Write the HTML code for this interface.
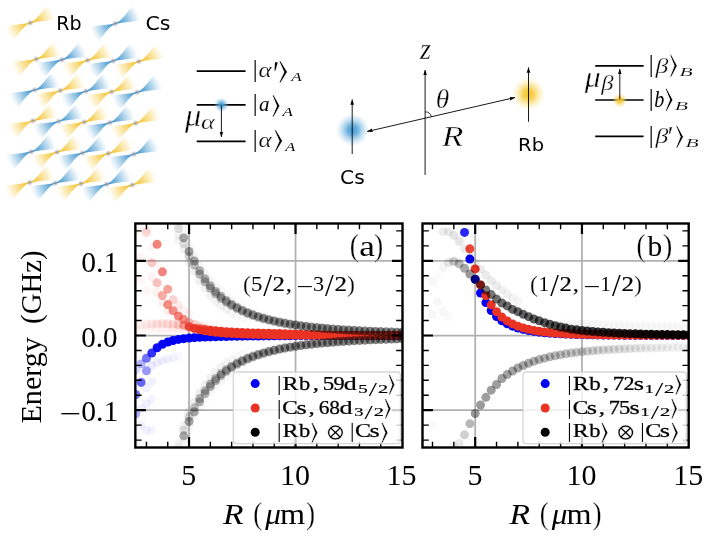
<!DOCTYPE html>
<html><head><meta charset="utf-8"><title>Rb-Cs interaction figure</title>
<style>html,body{margin:0;padding:0;background:#fff}svg{display:block;will-change:transform}</style></head>
<body>
<svg width="712" height="545" viewBox="0 0 712 545">
<rect width="712" height="545" fill="#fff"/>
<defs>
<radialGradient id="gy" gradientUnits="userSpaceOnUse" cx="0" cy="0" r="25.5"><stop offset="0" stop-color="#f0b60a" stop-opacity="1"/><stop offset="0.2" stop-color="#f4c024" stop-opacity="0.85"/><stop offset="0.47" stop-color="#f4c024" stop-opacity="0.56"/><stop offset="0.7" stop-color="#f6c838" stop-opacity="0.32"/><stop offset="0.87" stop-color="#f6c838" stop-opacity="0.11"/><stop offset="1" stop-color="#f6c838" stop-opacity="0"/></radialGradient>
<radialGradient id="gb" gradientUnits="userSpaceOnUse" cx="0" cy="0" r="25.5"><stop offset="0" stop-color="#2f86c4" stop-opacity="1"/><stop offset="0.2" stop-color="#3a92cc" stop-opacity="0.85"/><stop offset="0.47" stop-color="#3a92cc" stop-opacity="0.56"/><stop offset="0.7" stop-color="#4a9cd2" stop-opacity="0.32"/><stop offset="0.87" stop-color="#4a9cd2" stop-opacity="0.11"/><stop offset="1" stop-color="#4a9cd2" stop-opacity="0"/></radialGradient>
<radialGradient id="ga"><stop offset="0" stop-color="#8a8a96" stop-opacity="0.75"/><stop offset="0.5" stop-color="#9a9aa6" stop-opacity="0.45"/><stop offset="1" stop-color="#aaaab4" stop-opacity="0"/></radialGradient>
<radialGradient id="blobB"><stop offset="0" stop-color="#4097d4" stop-opacity="0.97"/><stop offset="0.3" stop-color="#4fa2d8" stop-opacity="0.84"/><stop offset="0.65" stop-color="#78b8e2" stop-opacity="0.42"/><stop offset="1" stop-color="#9fd0ee" stop-opacity="0"/></radialGradient>
<radialGradient id="blobY"><stop offset="0" stop-color="#f5c526" stop-opacity="1"/><stop offset="0.3" stop-color="#f6ca3a" stop-opacity="0.88"/><stop offset="0.65" stop-color="#f8d660" stop-opacity="0.42"/><stop offset="1" stop-color="#fbe28c" stop-opacity="0"/></radialGradient>
<path id="bt" d="M0.60 -0.75 L2.00 -1.35 L3.70 -2.30 L6.40 -4.70 L9.20 -7.80 L11.90 -11.30 L14.70 -14.70 L16.60 -17.00 L18.56 -15.65 L20.36 -14.05 L21.91 -12.17 L23.14 -10.07 L24.02 -7.80 L24.56 -5.42 L24.80 -3.00 L17.40 -2.20 L11.00 -1.45 L4.60 -0.60 L0.90 0.45 L-0.60 0.75 L-2.00 1.35 L-3.70 2.30 L-6.40 4.70 L-9.20 7.80 L-11.90 11.30 L-14.70 14.70 L-16.60 17.00 L-18.56 15.65 L-20.36 14.05 L-21.91 12.17 L-23.14 10.07 L-24.02 7.80 L-24.56 5.42 L-24.80 3.00 L-17.40 2.20 L-11.00 1.45 L-4.60 0.60 L-0.90 -0.45Z"/>
<filter id="soft" x="-20%" y="-20%" width="140%" height="140%"><feGaussianBlur stdDeviation="0.4"/></filter>
<marker id="ah" viewBox="0 0 10 10" refX="9.5" refY="5" preserveAspectRatio="none" markerWidth="5.6" markerHeight="4.4" orient="auto-start-reverse" markerUnits="userSpaceOnUse"><path d="M0 0.8 L10 5 L0 9.2 Z" fill="#000"/></marker>
</defs>
<g transform="translate(36.3 59.1)"><use href="#bt" fill="url(#gy)" filter="url(#soft)"/><circle r="3.4" fill="url(#ga)"/></g>
<g transform="translate(61.9 59.7)"><use href="#bt" fill="url(#gb)" filter="url(#soft)"/><circle r="3.4" fill="url(#ga)"/></g>
<g transform="translate(87.6 60.3)"><use href="#bt" fill="url(#gy)" filter="url(#soft)"/><circle r="3.4" fill="url(#ga)"/></g>
<g transform="translate(113.2 60.9)"><use href="#bt" fill="url(#gb)" filter="url(#soft)"/><circle r="3.4" fill="url(#ga)"/></g>
<g transform="translate(138.9 61.5)"><use href="#bt" fill="url(#gy)" filter="url(#soft)"/><circle r="3.4" fill="url(#ga)"/></g>
<g transform="translate(34.6 90.0)"><use href="#bt" fill="url(#gb)" filter="url(#soft)"/><circle r="3.4" fill="url(#ga)"/></g>
<g transform="translate(60.3 90.6)"><use href="#bt" fill="url(#gy)" filter="url(#soft)"/><circle r="3.4" fill="url(#ga)"/></g>
<g transform="translate(85.9 91.2)"><use href="#bt" fill="url(#gb)" filter="url(#soft)"/><circle r="3.4" fill="url(#ga)"/></g>
<g transform="translate(111.6 91.8)"><use href="#bt" fill="url(#gy)" filter="url(#soft)"/><circle r="3.4" fill="url(#ga)"/></g>
<g transform="translate(137.2 92.3)"><use href="#bt" fill="url(#gb)" filter="url(#soft)"/><circle r="3.4" fill="url(#ga)"/></g>
<g transform="translate(33.0 120.8)"><use href="#bt" fill="url(#gy)" filter="url(#soft)"/><circle r="3.4" fill="url(#ga)"/></g>
<g transform="translate(58.6 121.4)"><use href="#bt" fill="url(#gb)" filter="url(#soft)"/><circle r="3.4" fill="url(#ga)"/></g>
<g transform="translate(84.3 122.0)"><use href="#bt" fill="url(#gy)" filter="url(#soft)"/><circle r="3.4" fill="url(#ga)"/></g>
<g transform="translate(109.9 122.6)"><use href="#bt" fill="url(#gb)" filter="url(#soft)"/><circle r="3.4" fill="url(#ga)"/></g>
<g transform="translate(135.6 123.2)"><use href="#bt" fill="url(#gy)" filter="url(#soft)"/><circle r="3.4" fill="url(#ga)"/></g>
<g transform="translate(31.3 151.7)"><use href="#bt" fill="url(#gb)" filter="url(#soft)"/><circle r="3.4" fill="url(#ga)"/></g>
<g transform="translate(57.0 152.2)"><use href="#bt" fill="url(#gy)" filter="url(#soft)"/><circle r="3.4" fill="url(#ga)"/></g>
<g transform="translate(82.6 152.9)"><use href="#bt" fill="url(#gb)" filter="url(#soft)"/><circle r="3.4" fill="url(#ga)"/></g>
<g transform="translate(108.3 153.5)"><use href="#bt" fill="url(#gy)" filter="url(#soft)"/><circle r="3.4" fill="url(#ga)"/></g>
<g transform="translate(133.9 154.1)"><use href="#bt" fill="url(#gb)" filter="url(#soft)"/><circle r="3.4" fill="url(#ga)"/></g>
<g transform="translate(29.7 182.5)"><use href="#bt" fill="url(#gy)" filter="url(#soft)"/><circle r="3.4" fill="url(#ga)"/></g>
<g transform="translate(55.3 183.1)"><use href="#bt" fill="url(#gb)" filter="url(#soft)"/><circle r="3.4" fill="url(#ga)"/></g>
<g transform="translate(81.0 183.7)"><use href="#bt" fill="url(#gy)" filter="url(#soft)"/><circle r="3.4" fill="url(#ga)"/></g>
<g transform="translate(106.6 184.3)"><use href="#bt" fill="url(#gb)" filter="url(#soft)"/><circle r="3.4" fill="url(#ga)"/></g>
<g transform="translate(132.3 184.9)"><use href="#bt" fill="url(#gy)" filter="url(#soft)"/><circle r="3.4" fill="url(#ga)"/></g>
<g transform="translate(30.3 22.8)"><use href="#bt" fill="url(#gy)" filter="url(#soft)"/><circle r="3.4" fill="url(#ga)"/></g>
<g transform="translate(115.4 23.6)"><use href="#bt" fill="url(#gb)" filter="url(#soft)"/><circle r="3.4" fill="url(#ga)"/></g>
<text transform="translate(56.23 30.10) scale(1.011 1)" font-size="18.82" font-family="DejaVu Sans, Liberation Sans, sans-serif" fill="#000">Rb</text>
<text transform="translate(145.45 30.10) scale(1.047 1)" font-size="19.54" font-family="DejaVu Sans, Liberation Sans, sans-serif" fill="#000">Cs</text>
<line x1="196.7" y1="71.2" x2="245.6" y2="71.2" stroke="#000" stroke-width="1.7"/>
<line x1="196.7" y1="104.9" x2="245.6" y2="104.9" stroke="#000" stroke-width="1.7"/>
<line x1="196.7" y1="141.4" x2="245.6" y2="141.4" stroke="#000" stroke-width="1.7"/>
<circle cx="221.4" cy="104.9" r="7.5" fill="url(#blobB)"/>
<line x1="221.4" y1="105.5" x2="221.4" y2="137" stroke="#000" stroke-width="0.9" marker-end="url(#ah)"/>
<text transform="translate(185.03 125.60) scale(1.039 1)" font-size="31.16" font-family="Liberation Serif, DejaVu Serif, serif" font-style="italic" fill="#000" stroke="#fff" stroke-width="0.4" paint-order="fill stroke">μ</text>
<text transform="translate(201.01 129.10) scale(1.283 1)" font-size="20.56" font-family="Liberation Serif, DejaVu Serif, serif" font-style="italic" fill="#000" stroke="#fff" stroke-width="0.3" paint-order="fill stroke">α</text>
<text x="252.68" y="77.28" font-size="24.18" font-family="Liberation Serif, DejaVu Serif, serif">|</text>
<text transform="translate(258.55 77.00) scale(1.145 1)" font-size="21.84" font-family="Liberation Serif, DejaVu Serif, serif" font-style="italic" fill="#000" stroke="#fff" stroke-width="0.2" paint-order="fill stroke">α</text>
<text transform="translate(272.78 87.40) scale(0.796 1)" font-size="38.70" font-family="Liberation Serif, DejaVu Serif, serif" fill="#000" stroke="#fff" stroke-width="0.3" paint-order="fill stroke">′</text>
<text transform="translate(277.30 78.67) scale(1.158 1)" font-size="26.07" font-family="DejaVu Math TeX Gyre, DejaVu Serif, DejaVu Sans, serif" fill="#000" stroke="#fff" stroke-width="0.65" paint-order="fill stroke">⟩</text>
<text transform="translate(291.33 80.70) scale(1.324 1)" font-size="12.88" font-family="Liberation Serif, DejaVu Serif, serif" font-style="italic" fill="#000">A</text>
<text x="252.68" y="111.18" font-size="24.18" font-family="Liberation Serif, DejaVu Serif, serif">|</text>
<text transform="translate(259.07 110.90) scale(1.000 1)" font-size="21.03" font-family="Liberation Serif, DejaVu Serif, serif" font-style="italic" fill="#000">a</text>
<text transform="translate(270.67 112.57) scale(1.036 1)" font-size="26.07" font-family="DejaVu Math TeX Gyre, DejaVu Serif, DejaVu Sans, serif" fill="#000" stroke="#fff" stroke-width="0.65" paint-order="fill stroke">⟩</text>
<text transform="translate(282.62 115.50) scale(1.312 1)" font-size="12.88" font-family="Liberation Serif, DejaVu Serif, serif" font-style="italic" fill="#000">A</text>
<text x="252.68" y="146.88" font-size="24.18" font-family="Liberation Serif, DejaVu Serif, serif">|</text>
<text transform="translate(258.55 146.60) scale(1.145 1)" font-size="21.84" font-family="Liberation Serif, DejaVu Serif, serif" font-style="italic" fill="#000" stroke="#fff" stroke-width="0.2" paint-order="fill stroke">α</text>
<text transform="translate(272.76 148.27) scale(1.117 1)" font-size="26.07" font-family="DejaVu Math TeX Gyre, DejaVu Serif, DejaVu Sans, serif" fill="#000" stroke="#fff" stroke-width="0.65" paint-order="fill stroke">⟩</text>
<text transform="translate(285.30 151.20) scale(1.277 1)" font-size="12.88" font-family="Liberation Serif, DejaVu Serif, serif" font-style="italic" fill="#000">A</text>
<circle cx="352.6" cy="130" r="16.5" fill="url(#blobB)"/>
<circle cx="528.5" cy="94" r="16.5" fill="url(#blobY)"/>
<line x1="352.2" y1="154" x2="352.2" y2="99.5" stroke="#000" stroke-width="0.9" marker-end="url(#ah)"/>
<line x1="528.5" y1="121.8" x2="528.5" y2="67.5" stroke="#000" stroke-width="0.9" marker-end="url(#ah)"/>
<line x1="425.1" y1="175" x2="425.1" y2="70" stroke="#000" stroke-width="0.9" marker-end="url(#ah)"/>
<line x1="367.2" y1="131.5" x2="515" y2="97.5" stroke="#000" stroke-width="0.9" marker-start="url(#ah)" marker-end="url(#ah)"/>
<path d="M425.1 111.8 A6.5 6.5 0 0 1 431.4 116.8" fill="none" stroke="#000" stroke-width="0.8"/>
<text transform="translate(420.12 58.70) scale(0.971 1)" font-size="28.98" font-family="Liberation Serif, DejaVu Serif, serif" font-style="italic" fill="#000" stroke="#fff" stroke-width="0.3" paint-order="fill stroke">z</text>
<text transform="translate(435.66 108.40) scale(1.026 1)" font-size="26.74" font-family="Liberation Serif, DejaVu Serif, serif" font-style="italic" fill="#000" stroke="#fff" stroke-width="0.3" paint-order="fill stroke">θ</text>
<text transform="translate(441.79 146.00) scale(1.231 1)" font-size="28.86" font-family="Liberation Serif, DejaVu Serif, serif" font-style="italic" fill="#000" stroke="#fff" stroke-width="0.45" paint-order="fill stroke">R</text>
<text transform="translate(518.08 151.00) scale(1.076 1)" font-size="18.16" font-family="DejaVu Sans, Liberation Sans, sans-serif" fill="#000">Rb</text>
<text transform="translate(340.07 184.40) scale(1.041 1)" font-size="19.40" font-family="DejaVu Sans, Liberation Sans, sans-serif" fill="#000">Cs</text>
<line x1="595.2" y1="65.8" x2="643.6" y2="65.8" stroke="#000" stroke-width="1.7"/>
<line x1="595.2" y1="100.0" x2="643.6" y2="100.0" stroke="#000" stroke-width="1.7"/>
<line x1="595.2" y1="136.4" x2="643.6" y2="136.4" stroke="#000" stroke-width="1.7"/>
<circle cx="619.8" cy="100.4" r="7.5" fill="url(#blobY)"/>
<line x1="619.8" y1="99.5" x2="619.8" y2="69" stroke="#000" stroke-width="0.9" marker-end="url(#ah)"/>
<text transform="translate(584.73 87.40) scale(1.095 1)" font-size="28.98" font-family="Liberation Serif, DejaVu Serif, serif" font-style="italic" fill="#000" stroke="#fff" stroke-width="0.4" paint-order="fill stroke">μ</text>
<text transform="translate(601.20 90.04) scale(1.174 1)" font-size="20.94" font-family="Liberation Serif, DejaVu Serif, serif" font-style="italic" fill="#000" stroke="#fff" stroke-width="0.3" paint-order="fill stroke">β</text>
<text x="648.86" y="72.03" font-size="24.40" font-family="Liberation Serif, DejaVu Serif, serif">|</text>
<text transform="translate(655.51 72.84) scale(1.230 1)" font-size="20.94" font-family="Liberation Serif, DejaVu Serif, serif" font-style="italic" fill="#000" stroke="#fff" stroke-width="0.3" paint-order="fill stroke">β</text>
<text transform="translate(668.52 73.43) scale(0.987 1)" font-size="26.30" font-family="DejaVu Math TeX Gyre, DejaVu Serif, DejaVu Sans, serif" fill="#000" stroke="#fff" stroke-width="0.65" paint-order="fill stroke">⟩</text>
<text transform="translate(679.40 75.70) scale(1.722 1)" font-size="12.52" font-family="Liberation Serif, DejaVu Serif, serif" font-style="italic" fill="#000" stroke="#fff" stroke-width="0.14" paint-order="fill stroke">B</text>
<text x="648.86" y="105.93" font-size="24.40" font-family="Liberation Serif, DejaVu Serif, serif">|</text>
<text transform="translate(654.35 106.60) scale(0.856 1)" font-size="23.49" font-family="Liberation Serif, DejaVu Serif, serif" font-style="italic" fill="#000">b</text>
<text transform="translate(664.01 107.33) scale(1.000 1)" font-size="26.30" font-family="DejaVu Math TeX Gyre, DejaVu Serif, DejaVu Sans, serif" fill="#000" stroke="#fff" stroke-width="0.65" paint-order="fill stroke">⟩</text>
<text transform="translate(674.70 110.00) scale(1.743 1)" font-size="12.37" font-family="Liberation Serif, DejaVu Serif, serif" font-style="italic" fill="#000" stroke="#fff" stroke-width="0.14" paint-order="fill stroke">B</text>
<text x="648.86" y="142.63" font-size="24.40" font-family="Liberation Serif, DejaVu Serif, serif">|</text>
<text transform="translate(655.51 143.44) scale(1.230 1)" font-size="20.94" font-family="Liberation Serif, DejaVu Serif, serif" font-style="italic" fill="#000" stroke="#fff" stroke-width="0.3" paint-order="fill stroke">β</text>
<text transform="translate(667.50 146.40) scale(0.944 1)" font-size="30.00" font-family="Liberation Serif, DejaVu Serif, serif" fill="#000" stroke="#fff" stroke-width="0.3" paint-order="fill stroke">′</text>
<text transform="translate(674.51 144.03) scale(1.000 1)" font-size="26.30" font-family="DejaVu Math TeX Gyre, DejaVu Serif, DejaVu Sans, serif" fill="#000" stroke="#fff" stroke-width="0.65" paint-order="fill stroke">⟩</text>
<text transform="translate(685.40 146.50) scale(1.722 1)" font-size="12.52" font-family="Liberation Serif, DejaVu Serif, serif" font-style="italic" fill="#000" stroke="#fff" stroke-width="0.14" paint-order="fill stroke">B</text>
<g id="axa">
<g stroke="#b0b0b0" stroke-width="1.75"><line x1="189.05" y1="223.5" x2="189.05" y2="447.5"/><line x1="295.55" y1="223.5" x2="295.55" y2="447.5"/><line x1="135.35" y1="410.20" x2="402.5" y2="410.20"/><line x1="135.35" y1="335.50" x2="402.5" y2="335.50"/><line x1="135.35" y1="260.80" x2="402.5" y2="260.80"/></g>
<clipPath id="clipa"><rect x="135.35" y="223.5" width="267.15" height="224.0"/></clipPath>
<g clip-path="url(#clipa)">
<g fill="#0000f5"><circle cx="135.80" cy="369.86" r="4.5" fill-opacity="0.150"/><circle cx="141.12" cy="363.89" r="4.5" fill-opacity="0.300"/><circle cx="146.45" cy="358.28" r="4.5" fill-opacity="0.550"/><circle cx="151.78" cy="352.99" r="4.5" fill-opacity="0.800"/><circle cx="157.10" cy="347.76" r="4.5" fill-opacity="0.950"/><circle cx="162.43" cy="344.36" r="4.5" fill-opacity="0.975"/><circle cx="167.75" cy="342.08" r="4.5" fill-opacity="1.000"/><circle cx="173.08" cy="340.52" r="4.5" fill-opacity="1.000"/><circle cx="178.40" cy="339.42" r="4.5" fill-opacity="1.000"/><circle cx="183.73" cy="338.63" r="4.5" fill-opacity="1.000"/><circle cx="189.05" cy="338.06" r="4.5" fill-opacity="1.000"/><circle cx="194.38" cy="337.63" r="4.5" fill-opacity="1.000"/><circle cx="199.70" cy="337.31" r="4.5" fill-opacity="1.000"/><circle cx="205.03" cy="337.07" r="4.5" fill-opacity="1.000"/><circle cx="210.35" cy="336.89" r="4.5" fill-opacity="1.000"/><circle cx="215.68" cy="336.71" r="4.5" fill-opacity="1.000"/><circle cx="221.00" cy="336.57" r="4.5" fill-opacity="1.000"/><circle cx="226.33" cy="336.45" r="4.5" fill-opacity="1.000"/><circle cx="231.65" cy="336.34" r="4.5" fill-opacity="1.000"/><circle cx="236.98" cy="336.25" r="4.5" fill-opacity="1.000"/><circle cx="242.30" cy="336.18" r="4.5" fill-opacity="1.000"/><circle cx="247.62" cy="336.11" r="4.5" fill-opacity="1.000"/><circle cx="252.95" cy="336.05" r="4.5" fill-opacity="1.000"/><circle cx="258.28" cy="335.99" r="4.5" fill-opacity="1.000"/><circle cx="263.60" cy="335.94" r="4.5" fill-opacity="1.000"/><circle cx="268.93" cy="335.89" r="4.5" fill-opacity="1.000"/><circle cx="274.25" cy="335.84" r="4.5" fill-opacity="1.000"/><circle cx="279.58" cy="335.80" r="4.5" fill-opacity="1.000"/><circle cx="284.90" cy="335.76" r="4.5" fill-opacity="1.000"/><circle cx="290.23" cy="335.72" r="4.5" fill-opacity="1.000"/><circle cx="295.55" cy="335.68" r="4.5" fill-opacity="1.000"/><circle cx="300.88" cy="335.64" r="4.5" fill-opacity="1.000"/><circle cx="306.20" cy="335.61" r="4.5" fill-opacity="1.000"/><circle cx="311.53" cy="335.57" r="4.5" fill-opacity="1.000"/><circle cx="316.85" cy="335.54" r="4.5" fill-opacity="1.000"/><circle cx="322.18" cy="335.53" r="4.5" fill-opacity="1.000"/><circle cx="327.50" cy="335.53" r="4.5" fill-opacity="1.000"/><circle cx="332.83" cy="335.53" r="4.5" fill-opacity="1.000"/><circle cx="338.15" cy="335.52" r="4.5" fill-opacity="1.000"/><circle cx="343.48" cy="335.52" r="4.5" fill-opacity="1.000"/><circle cx="348.80" cy="335.52" r="4.5" fill-opacity="1.000"/><circle cx="354.12" cy="335.52" r="4.5" fill-opacity="1.000"/><circle cx="359.45" cy="335.52" r="4.5" fill-opacity="1.000"/><circle cx="364.77" cy="335.51" r="4.5" fill-opacity="1.000"/><circle cx="370.10" cy="335.51" r="4.5" fill-opacity="1.000"/><circle cx="375.43" cy="335.51" r="4.5" fill-opacity="1.000"/><circle cx="380.75" cy="335.51" r="4.5" fill-opacity="1.000"/><circle cx="386.08" cy="335.51" r="4.5" fill-opacity="1.000"/><circle cx="391.40" cy="335.51" r="4.5" fill-opacity="1.000"/><circle cx="396.73" cy="335.51" r="4.5" fill-opacity="1.000"/><circle cx="402.05" cy="335.51" r="4.5" fill-opacity="1.000"/><circle cx="135.80" cy="394.51" r="4.5" fill-opacity="0.550"/><circle cx="141.12" cy="382.41" r="4.5" fill-opacity="0.600"/><circle cx="146.45" cy="370.83" r="4.5" fill-opacity="0.400"/><circle cx="151.78" cy="365.38" r="4.5" fill-opacity="0.080"/><circle cx="157.10" cy="362.39" r="4.5" fill-opacity="0.060"/><circle cx="162.43" cy="360.90" r="4.5" fill-opacity="0.055"/><circle cx="167.75" cy="359.40" r="4.5" fill-opacity="0.050"/><circle cx="173.08" cy="357.91" r="4.5" fill-opacity="0.040"/><circle cx="178.40" cy="356.42" r="4.5" fill-opacity="0.025"/><circle cx="135.80" cy="413.94" r="4.5" fill-opacity="0.300"/><circle cx="141.12" cy="408.71" r="4.5" fill-opacity="0.060"/><circle cx="146.45" cy="403.48" r="4.5" fill-opacity="0.060"/><circle cx="151.78" cy="399.00" r="4.5" fill-opacity="0.040"/><circle cx="146.45" cy="430.37" r="4.5" fill-opacity="0.050"/><circle cx="151.78" cy="430.37" r="4.5" fill-opacity="0.040"/><circle cx="151.78" cy="381.81" r="4.5" fill-opacity="0.050"/><circle cx="146.45" cy="387.79" r="4.5" fill-opacity="0.050"/><circle cx="141.12" cy="425.14" r="4.5" fill-opacity="0.050"/></g>
<g fill="#ea3323"><circle cx="135.80" cy="326.24" r="4.5" fill-opacity="0.040"/><circle cx="141.12" cy="325.27" r="4.5" fill-opacity="0.060"/><circle cx="146.45" cy="324.52" r="4.5" fill-opacity="0.080"/><circle cx="151.78" cy="323.98" r="4.5" fill-opacity="0.100"/><circle cx="157.10" cy="323.66" r="4.5" fill-opacity="0.120"/><circle cx="162.43" cy="323.55" r="4.5" fill-opacity="0.133"/><circle cx="167.75" cy="323.66" r="4.5" fill-opacity="0.147"/><circle cx="173.08" cy="323.98" r="4.5" fill-opacity="0.160"/><circle cx="178.40" cy="324.52" r="4.5" fill-opacity="0.220"/><circle cx="183.73" cy="325.19" r="4.5" fill-opacity="0.420"/><circle cx="189.05" cy="326.69" r="4.5" fill-opacity="0.850"/><circle cx="194.38" cy="328.42" r="4.5" fill-opacity="0.950"/><circle cx="199.70" cy="329.76" r="4.5" fill-opacity="1.000"/><circle cx="205.03" cy="330.80" r="4.5" fill-opacity="1.000"/><circle cx="210.35" cy="331.62" r="4.5" fill-opacity="1.000"/><circle cx="215.68" cy="332.27" r="4.5" fill-opacity="1.000"/><circle cx="221.00" cy="332.79" r="4.5" fill-opacity="1.000"/><circle cx="226.33" cy="333.22" r="4.5" fill-opacity="1.000"/><circle cx="231.65" cy="333.56" r="4.5" fill-opacity="1.000"/><circle cx="236.98" cy="333.84" r="4.5" fill-opacity="1.000"/><circle cx="242.30" cy="334.08" r="4.5" fill-opacity="1.000"/><circle cx="247.62" cy="334.27" r="4.5" fill-opacity="1.000"/><circle cx="252.95" cy="334.44" r="4.5" fill-opacity="1.000"/><circle cx="258.28" cy="334.57" r="4.5" fill-opacity="1.000"/><circle cx="263.60" cy="334.69" r="4.5" fill-opacity="1.000"/><circle cx="268.93" cy="334.79" r="4.5" fill-opacity="1.000"/><circle cx="274.25" cy="334.87" r="4.5" fill-opacity="1.000"/><circle cx="279.58" cy="334.95" r="4.5" fill-opacity="1.000"/><circle cx="284.90" cy="335.01" r="4.5" fill-opacity="1.000"/><circle cx="290.23" cy="335.06" r="4.5" fill-opacity="1.000"/><circle cx="295.55" cy="335.11" r="4.5" fill-opacity="1.000"/><circle cx="300.88" cy="335.15" r="4.5" fill-opacity="1.000"/><circle cx="306.20" cy="335.19" r="4.5" fill-opacity="1.000"/><circle cx="311.53" cy="335.22" r="4.5" fill-opacity="1.000"/><circle cx="316.85" cy="335.25" r="4.5" fill-opacity="1.000"/><circle cx="322.18" cy="335.27" r="4.5" fill-opacity="1.000"/><circle cx="327.50" cy="335.29" r="4.5" fill-opacity="1.000"/><circle cx="332.83" cy="335.31" r="4.5" fill-opacity="1.000"/><circle cx="338.15" cy="335.33" r="4.5" fill-opacity="1.000"/><circle cx="343.48" cy="335.34" r="4.5" fill-opacity="1.000"/><circle cx="348.80" cy="335.36" r="4.5" fill-opacity="1.000"/><circle cx="354.12" cy="335.37" r="4.5" fill-opacity="1.000"/><circle cx="359.45" cy="335.38" r="4.5" fill-opacity="1.000"/><circle cx="364.77" cy="335.39" r="4.5" fill-opacity="1.000"/><circle cx="370.10" cy="335.40" r="4.5" fill-opacity="1.000"/><circle cx="375.43" cy="335.41" r="4.5" fill-opacity="1.000"/><circle cx="380.75" cy="335.41" r="4.5" fill-opacity="1.000"/><circle cx="386.08" cy="335.42" r="4.5" fill-opacity="1.000"/><circle cx="391.40" cy="335.43" r="4.5" fill-opacity="1.000"/><circle cx="396.73" cy="335.43" r="4.5" fill-opacity="1.000"/><circle cx="402.05" cy="335.44" r="4.5" fill-opacity="1.000"/><circle cx="199.70" cy="328.27" r="4.5" fill-opacity="0.500"/><circle cx="205.03" cy="329.31" r="4.5" fill-opacity="0.750"/><circle cx="210.35" cy="330.13" r="4.5" fill-opacity="1.000"/><circle cx="215.68" cy="330.78" r="4.5" fill-opacity="1.000"/><circle cx="221.00" cy="331.30" r="4.5" fill-opacity="1.000"/><circle cx="226.33" cy="331.72" r="4.5" fill-opacity="1.000"/><circle cx="231.65" cy="332.07" r="4.5" fill-opacity="1.000"/><circle cx="236.98" cy="332.35" r="4.5" fill-opacity="1.000"/><circle cx="242.30" cy="332.58" r="4.5" fill-opacity="1.000"/><circle cx="247.62" cy="332.78" r="4.5" fill-opacity="1.000"/><circle cx="252.95" cy="332.94" r="4.5" fill-opacity="1.000"/><circle cx="258.28" cy="333.08" r="4.5" fill-opacity="1.000"/><circle cx="263.60" cy="333.20" r="4.5" fill-opacity="1.000"/><circle cx="268.93" cy="333.30" r="4.5" fill-opacity="1.000"/><circle cx="274.25" cy="333.38" r="4.5" fill-opacity="1.000"/><circle cx="279.58" cy="333.58" r="4.5" fill-opacity="1.000"/><circle cx="284.90" cy="333.76" r="4.5" fill-opacity="1.000"/><circle cx="290.23" cy="333.94" r="4.5" fill-opacity="1.000"/><circle cx="295.55" cy="334.11" r="4.5" fill-opacity="1.000"/><circle cx="300.88" cy="334.28" r="4.5" fill-opacity="1.000"/><circle cx="306.20" cy="334.44" r="4.5" fill-opacity="1.000"/><circle cx="311.53" cy="334.60" r="4.5" fill-opacity="1.000"/><circle cx="316.85" cy="334.75" r="4.5" fill-opacity="1.000"/><circle cx="322.18" cy="334.90" r="4.5" fill-opacity="1.000"/><circle cx="327.50" cy="335.04" r="4.5" fill-opacity="1.000"/><circle cx="332.83" cy="335.19" r="4.5" fill-opacity="1.000"/><circle cx="338.15" cy="335.33" r="4.5" fill-opacity="1.000"/><circle cx="135.80" cy="329.15" r="4.5" fill-opacity="0.020"/><circle cx="141.12" cy="329.15" r="4.5" fill-opacity="0.025"/><circle cx="146.45" cy="329.15" r="4.5" fill-opacity="0.030"/><circle cx="151.78" cy="329.15" r="4.5" fill-opacity="0.035"/><circle cx="157.10" cy="329.15" r="4.5" fill-opacity="0.040"/><circle cx="162.43" cy="329.15" r="4.5" fill-opacity="0.045"/><circle cx="167.75" cy="329.15" r="4.5" fill-opacity="0.050"/><circle cx="173.08" cy="329.15" r="4.5" fill-opacity="0.058"/><circle cx="178.40" cy="329.15" r="4.5" fill-opacity="0.065"/><circle cx="183.73" cy="329.15" r="4.5" fill-opacity="0.073"/><circle cx="189.05" cy="329.15" r="4.5" fill-opacity="0.080"/><circle cx="194.38" cy="329.15" r="4.5" fill-opacity="0.067"/><circle cx="199.70" cy="329.15" r="4.5" fill-opacity="0.053"/><circle cx="205.03" cy="329.15" r="4.5" fill-opacity="0.040"/><circle cx="210.35" cy="329.15" r="4.5" fill-opacity="0.027"/><circle cx="215.68" cy="329.15" r="4.5" fill-opacity="0.013"/><circle cx="157.10" cy="244.37" r="4.5" fill-opacity="0.600"/><circle cx="162.43" cy="271.86" r="4.5" fill-opacity="0.600"/><circle cx="167.75" cy="289.19" r="4.5" fill-opacity="0.450"/><circle cx="173.08" cy="299.64" r="4.5" fill-opacity="0.220"/><circle cx="178.40" cy="305.17" r="4.5" fill-opacity="0.100"/><circle cx="183.73" cy="310.10" r="4.5" fill-opacity="0.060"/><circle cx="189.05" cy="313.84" r="4.5" fill-opacity="0.040"/><circle cx="146.45" cy="232.41" r="4.5" fill-opacity="0.180"/><circle cx="151.78" cy="262.74" r="4.5" fill-opacity="0.250"/><circle cx="157.10" cy="282.84" r="4.5" fill-opacity="0.300"/><circle cx="162.43" cy="295.54" r="4.5" fill-opacity="0.400"/><circle cx="167.75" cy="304.57" r="4.5" fill-opacity="0.550"/><circle cx="173.08" cy="310.70" r="4.5" fill-opacity="0.550"/><circle cx="178.40" cy="316.00" r="4.5" fill-opacity="0.600"/><circle cx="183.73" cy="319.59" r="4.5" fill-opacity="0.550"/><circle cx="189.05" cy="322.43" r="4.5" fill-opacity="0.300"/><circle cx="194.38" cy="324.30" r="4.5" fill-opacity="0.200"/><circle cx="199.70" cy="325.79" r="4.5" fill-opacity="0.120"/><circle cx="205.03" cy="326.91" r="4.5" fill-opacity="0.080"/><circle cx="210.35" cy="328.03" r="4.5" fill-opacity="0.050"/><circle cx="146.45" cy="229.43" r="4.5" fill-opacity="0.050"/><circle cx="141.12" cy="257.06" r="4.5" fill-opacity="0.050"/><circle cx="151.78" cy="277.23" r="4.5" fill-opacity="0.060"/><circle cx="157.10" cy="292.17" r="4.5" fill-opacity="0.070"/><circle cx="162.43" cy="302.63" r="4.5" fill-opacity="0.080"/><circle cx="167.75" cy="310.85" r="4.5" fill-opacity="0.080"/><circle cx="151.78" cy="247.35" r="4.5" fill-opacity="0.040"/><circle cx="157.10" cy="264.53" r="4.5" fill-opacity="0.040"/><circle cx="135.80" cy="230.92" r="4.5" fill-opacity="0.050"/><circle cx="141.12" cy="279.48" r="4.5" fill-opacity="0.040"/><circle cx="146.45" cy="290.68" r="4.5" fill-opacity="0.040"/></g>
<g fill="#000000"><circle cx="178.40" cy="228.45" r="4.5" fill-opacity="0.120"/><circle cx="178.40" cy="235.24" r="4.5" fill-opacity="0.040"/><circle cx="178.40" cy="446.76" r="4.5" fill-opacity="0.040"/><circle cx="178.40" cy="240.06" r="4.5" fill-opacity="0.040"/><circle cx="178.40" cy="442.68" r="4.5" fill-opacity="0.040"/><circle cx="178.40" cy="225.12" r="4.5" fill-opacity="0.024"/><circle cx="183.73" cy="237.94" r="4.5" fill-opacity="0.330"/><circle cx="183.73" cy="243.56" r="4.5" fill-opacity="0.120"/><circle cx="183.73" cy="435.87" r="4.5" fill-opacity="0.330"/><circle cx="183.73" cy="430.25" r="4.5" fill-opacity="0.120"/><circle cx="183.73" cy="248.97" r="4.5" fill-opacity="0.050"/><circle cx="183.73" cy="425.59" r="4.5" fill-opacity="0.050"/><circle cx="183.73" cy="234.03" r="4.5" fill-opacity="0.030"/><circle cx="183.73" cy="439.78" r="4.5" fill-opacity="0.030"/><circle cx="189.05" cy="251.46" r="4.5" fill-opacity="0.360"/><circle cx="189.05" cy="256.16" r="4.5" fill-opacity="0.170"/><circle cx="189.05" cy="421.55" r="4.5" fill-opacity="0.360"/><circle cx="189.05" cy="416.86" r="4.5" fill-opacity="0.170"/><circle cx="189.05" cy="262.03" r="4.5" fill-opacity="0.060"/><circle cx="189.05" cy="411.74" r="4.5" fill-opacity="0.060"/><circle cx="189.05" cy="247.09" r="4.5" fill-opacity="0.036"/><circle cx="189.05" cy="425.93" r="4.5" fill-opacity="0.036"/><circle cx="194.38" cy="260.99" r="4.5" fill-opacity="0.320"/><circle cx="194.38" cy="264.95" r="4.5" fill-opacity="0.240"/><circle cx="194.38" cy="411.81" r="4.5" fill-opacity="0.320"/><circle cx="194.38" cy="407.86" r="4.5" fill-opacity="0.240"/><circle cx="194.38" cy="271.19" r="4.5" fill-opacity="0.058"/><circle cx="194.38" cy="402.37" r="4.5" fill-opacity="0.058"/><circle cx="194.38" cy="256.25" r="4.5" fill-opacity="0.035"/><circle cx="194.38" cy="416.56" r="4.5" fill-opacity="0.035"/><circle cx="199.70" cy="270.74" r="4.5" fill-opacity="0.290"/><circle cx="199.70" cy="274.10" r="4.5" fill-opacity="0.280"/><circle cx="199.70" cy="401.83" r="4.5" fill-opacity="0.290"/><circle cx="199.70" cy="398.47" r="4.5" fill-opacity="0.280"/><circle cx="199.70" cy="280.63" r="4.5" fill-opacity="0.057"/><circle cx="199.70" cy="392.68" r="4.5" fill-opacity="0.057"/><circle cx="199.70" cy="265.69" r="4.5" fill-opacity="0.034"/><circle cx="199.70" cy="406.88" r="4.5" fill-opacity="0.034"/><circle cx="205.03" cy="278.85" r="4.5" fill-opacity="0.290"/><circle cx="205.03" cy="281.73" r="4.5" fill-opacity="0.280"/><circle cx="205.03" cy="393.52" r="4.5" fill-opacity="0.290"/><circle cx="205.03" cy="390.64" r="4.5" fill-opacity="0.280"/><circle cx="205.03" cy="288.51" r="4.5" fill-opacity="0.055"/><circle cx="205.03" cy="384.61" r="4.5" fill-opacity="0.055"/><circle cx="205.03" cy="273.57" r="4.5" fill-opacity="0.033"/><circle cx="205.03" cy="398.81" r="4.5" fill-opacity="0.033"/><circle cx="210.35" cy="285.67" r="4.5" fill-opacity="0.290"/><circle cx="210.35" cy="288.15" r="4.5" fill-opacity="0.281"/><circle cx="210.35" cy="386.54" r="4.5" fill-opacity="0.290"/><circle cx="210.35" cy="384.06" r="4.5" fill-opacity="0.281"/><circle cx="210.35" cy="295.13" r="4.5" fill-opacity="0.053"/><circle cx="210.35" cy="377.83" r="4.5" fill-opacity="0.053"/><circle cx="210.35" cy="280.19" r="4.5" fill-opacity="0.032"/><circle cx="210.35" cy="392.02" r="4.5" fill-opacity="0.032"/><circle cx="215.68" cy="291.44" r="4.5" fill-opacity="0.290"/><circle cx="215.68" cy="293.59" r="4.5" fill-opacity="0.281"/><circle cx="215.68" cy="380.63" r="4.5" fill-opacity="0.290"/><circle cx="215.68" cy="378.49" r="4.5" fill-opacity="0.281"/><circle cx="215.68" cy="300.73" r="4.5" fill-opacity="0.052"/><circle cx="215.68" cy="372.09" r="4.5" fill-opacity="0.052"/><circle cx="215.68" cy="285.79" r="4.5" fill-opacity="0.031"/><circle cx="215.68" cy="386.28" r="4.5" fill-opacity="0.031"/><circle cx="221.00" cy="296.35" r="4.5" fill-opacity="0.290"/><circle cx="221.00" cy="298.22" r="4.5" fill-opacity="0.281"/><circle cx="221.00" cy="375.61" r="4.5" fill-opacity="0.290"/><circle cx="221.00" cy="373.73" r="4.5" fill-opacity="0.281"/><circle cx="221.00" cy="305.50" r="4.5" fill-opacity="0.050"/><circle cx="221.00" cy="367.20" r="4.5" fill-opacity="0.050"/><circle cx="221.00" cy="290.56" r="4.5" fill-opacity="0.030"/><circle cx="221.00" cy="381.39" r="4.5" fill-opacity="0.030"/><circle cx="226.33" cy="300.55" r="4.5" fill-opacity="0.290"/><circle cx="226.33" cy="302.19" r="4.5" fill-opacity="0.281"/><circle cx="226.33" cy="371.30" r="4.5" fill-opacity="0.290"/><circle cx="226.33" cy="369.66" r="4.5" fill-opacity="0.281"/><circle cx="226.33" cy="309.59" r="4.5" fill-opacity="0.042"/><circle cx="226.33" cy="363.01" r="4.5" fill-opacity="0.042"/><circle cx="226.33" cy="294.65" r="4.5" fill-opacity="0.025"/><circle cx="226.33" cy="377.20" r="4.5" fill-opacity="0.025"/><circle cx="231.65" cy="304.18" r="4.5" fill-opacity="0.290"/><circle cx="231.65" cy="305.62" r="4.5" fill-opacity="0.282"/><circle cx="231.65" cy="367.58" r="4.5" fill-opacity="0.290"/><circle cx="231.65" cy="366.14" r="4.5" fill-opacity="0.282"/><circle cx="231.65" cy="313.12" r="4.5" fill-opacity="0.033"/><circle cx="231.65" cy="359.39" r="4.5" fill-opacity="0.033"/><circle cx="231.65" cy="298.18" r="4.5" fill-opacity="0.020"/><circle cx="231.65" cy="373.58" r="4.5" fill-opacity="0.020"/><circle cx="236.98" cy="307.32" r="4.5" fill-opacity="0.290"/><circle cx="236.98" cy="308.60" r="4.5" fill-opacity="0.282"/><circle cx="236.98" cy="364.37" r="4.5" fill-opacity="0.290"/><circle cx="236.98" cy="363.09" r="4.5" fill-opacity="0.282"/><circle cx="236.98" cy="316.18" r="4.5" fill-opacity="0.025"/><circle cx="236.98" cy="356.26" r="4.5" fill-opacity="0.025"/><circle cx="236.98" cy="301.24" r="4.5" fill-opacity="0.015"/><circle cx="236.98" cy="370.45" r="4.5" fill-opacity="0.015"/><circle cx="242.30" cy="310.05" r="4.5" fill-opacity="0.290"/><circle cx="242.30" cy="311.19" r="4.5" fill-opacity="0.282"/><circle cx="242.30" cy="361.57" r="4.5" fill-opacity="0.290"/><circle cx="242.30" cy="360.43" r="4.5" fill-opacity="0.282"/><circle cx="242.30" cy="318.84" r="4.5" fill-opacity="0.017"/><circle cx="242.30" cy="353.53" r="4.5" fill-opacity="0.017"/><circle cx="242.30" cy="303.90" r="4.5" fill-opacity="0.010"/><circle cx="242.30" cy="367.72" r="4.5" fill-opacity="0.010"/><circle cx="247.62" cy="312.45" r="4.5" fill-opacity="0.290"/><circle cx="247.62" cy="313.46" r="4.5" fill-opacity="0.282"/><circle cx="247.62" cy="359.11" r="4.5" fill-opacity="0.290"/><circle cx="247.62" cy="358.10" r="4.5" fill-opacity="0.282"/><circle cx="247.62" cy="321.17" r="4.5" fill-opacity="0.008"/><circle cx="247.62" cy="351.14" r="4.5" fill-opacity="0.008"/><circle cx="247.62" cy="306.23" r="4.5" fill-opacity="0.005"/><circle cx="247.62" cy="365.33" r="4.5" fill-opacity="0.005"/><circle cx="252.95" cy="314.55" r="4.5" fill-opacity="0.290"/><circle cx="252.95" cy="315.45" r="4.5" fill-opacity="0.283"/><circle cx="252.95" cy="356.96" r="4.5" fill-opacity="0.290"/><circle cx="252.95" cy="356.06" r="4.5" fill-opacity="0.283"/><circle cx="258.28" cy="316.40" r="4.5" fill-opacity="0.290"/><circle cx="258.28" cy="317.22" r="4.5" fill-opacity="0.283"/><circle cx="258.28" cy="355.06" r="4.5" fill-opacity="0.290"/><circle cx="258.28" cy="354.25" r="4.5" fill-opacity="0.283"/><circle cx="263.60" cy="318.04" r="4.5" fill-opacity="0.290"/><circle cx="263.60" cy="318.78" r="4.5" fill-opacity="0.283"/><circle cx="263.60" cy="353.38" r="4.5" fill-opacity="0.290"/><circle cx="263.60" cy="352.65" r="4.5" fill-opacity="0.283"/><circle cx="268.93" cy="319.50" r="4.5" fill-opacity="0.290"/><circle cx="268.93" cy="320.16" r="4.5" fill-opacity="0.283"/><circle cx="268.93" cy="351.89" r="4.5" fill-opacity="0.290"/><circle cx="268.93" cy="351.23" r="4.5" fill-opacity="0.283"/><circle cx="274.25" cy="320.80" r="4.5" fill-opacity="0.290"/><circle cx="274.25" cy="321.40" r="4.5" fill-opacity="0.284"/><circle cx="274.25" cy="350.56" r="4.5" fill-opacity="0.290"/><circle cx="274.25" cy="349.96" r="4.5" fill-opacity="0.284"/><circle cx="279.58" cy="321.97" r="4.5" fill-opacity="0.290"/><circle cx="279.58" cy="322.51" r="4.5" fill-opacity="0.284"/><circle cx="279.58" cy="349.36" r="4.5" fill-opacity="0.290"/><circle cx="279.58" cy="348.82" r="4.5" fill-opacity="0.284"/><circle cx="284.90" cy="323.01" r="4.5" fill-opacity="0.290"/><circle cx="284.90" cy="323.51" r="4.5" fill-opacity="0.284"/><circle cx="284.90" cy="348.29" r="4.5" fill-opacity="0.290"/><circle cx="284.90" cy="347.80" r="4.5" fill-opacity="0.284"/><circle cx="290.23" cy="323.95" r="4.5" fill-opacity="0.290"/><circle cx="290.23" cy="324.40" r="4.5" fill-opacity="0.284"/><circle cx="290.23" cy="347.33" r="4.5" fill-opacity="0.290"/><circle cx="290.23" cy="346.88" r="4.5" fill-opacity="0.284"/><circle cx="295.55" cy="324.80" r="4.5" fill-opacity="0.290"/><circle cx="295.55" cy="325.21" r="4.5" fill-opacity="0.285"/><circle cx="295.55" cy="346.46" r="4.5" fill-opacity="0.290"/><circle cx="295.55" cy="346.05" r="4.5" fill-opacity="0.285"/><circle cx="300.88" cy="325.56" r="4.5" fill-opacity="0.290"/><circle cx="300.88" cy="325.94" r="4.5" fill-opacity="0.285"/><circle cx="300.88" cy="345.68" r="4.5" fill-opacity="0.290"/><circle cx="300.88" cy="345.30" r="4.5" fill-opacity="0.285"/><circle cx="306.20" cy="326.26" r="4.5" fill-opacity="0.290"/><circle cx="306.20" cy="326.61" r="4.5" fill-opacity="0.285"/><circle cx="306.20" cy="344.97" r="4.5" fill-opacity="0.290"/><circle cx="306.20" cy="344.62" r="4.5" fill-opacity="0.285"/><circle cx="311.53" cy="326.89" r="4.5" fill-opacity="0.290"/><circle cx="311.53" cy="327.21" r="4.5" fill-opacity="0.286"/><circle cx="311.53" cy="344.32" r="4.5" fill-opacity="0.290"/><circle cx="311.53" cy="344.00" r="4.5" fill-opacity="0.286"/><circle cx="316.85" cy="327.47" r="4.5" fill-opacity="0.290"/><circle cx="316.85" cy="327.76" r="4.5" fill-opacity="0.286"/><circle cx="316.85" cy="343.73" r="4.5" fill-opacity="0.290"/><circle cx="316.85" cy="343.43" r="4.5" fill-opacity="0.286"/><circle cx="322.18" cy="327.99" r="4.5" fill-opacity="0.290"/><circle cx="322.18" cy="328.27" r="4.5" fill-opacity="0.286"/><circle cx="322.18" cy="343.19" r="4.5" fill-opacity="0.290"/><circle cx="322.18" cy="342.92" r="4.5" fill-opacity="0.286"/><circle cx="327.50" cy="328.47" r="4.5" fill-opacity="0.290"/><circle cx="327.50" cy="328.73" r="4.5" fill-opacity="0.286"/><circle cx="327.50" cy="342.70" r="4.5" fill-opacity="0.290"/><circle cx="327.50" cy="342.45" r="4.5" fill-opacity="0.286"/><circle cx="332.83" cy="328.91" r="4.5" fill-opacity="0.290"/><circle cx="332.83" cy="329.15" r="4.5" fill-opacity="0.287"/><circle cx="332.83" cy="342.25" r="4.5" fill-opacity="0.290"/><circle cx="332.83" cy="342.01" r="4.5" fill-opacity="0.287"/><circle cx="338.15" cy="329.32" r="4.5" fill-opacity="0.290"/><circle cx="338.15" cy="329.54" r="4.5" fill-opacity="0.287"/><circle cx="338.15" cy="341.83" r="4.5" fill-opacity="0.290"/><circle cx="338.15" cy="341.62" r="4.5" fill-opacity="0.287"/><circle cx="343.48" cy="329.69" r="4.5" fill-opacity="0.290"/><circle cx="343.48" cy="329.89" r="4.5" fill-opacity="0.287"/><circle cx="343.48" cy="341.45" r="4.5" fill-opacity="0.290"/><circle cx="343.48" cy="341.25" r="4.5" fill-opacity="0.287"/><circle cx="348.80" cy="330.03" r="4.5" fill-opacity="0.290"/><circle cx="348.80" cy="330.22" r="4.5" fill-opacity="0.287"/><circle cx="348.80" cy="341.10" r="4.5" fill-opacity="0.290"/><circle cx="348.80" cy="340.91" r="4.5" fill-opacity="0.287"/><circle cx="354.12" cy="330.35" r="4.5" fill-opacity="0.290"/><circle cx="354.12" cy="330.52" r="4.5" fill-opacity="0.288"/><circle cx="354.12" cy="340.78" r="4.5" fill-opacity="0.290"/><circle cx="354.12" cy="340.60" r="4.5" fill-opacity="0.288"/><circle cx="359.45" cy="330.64" r="4.5" fill-opacity="0.290"/><circle cx="359.45" cy="330.81" r="4.5" fill-opacity="0.288"/><circle cx="359.45" cy="340.48" r="4.5" fill-opacity="0.290"/><circle cx="359.45" cy="340.31" r="4.5" fill-opacity="0.288"/><circle cx="364.77" cy="330.91" r="4.5" fill-opacity="0.290"/><circle cx="364.77" cy="331.07" r="4.5" fill-opacity="0.288"/><circle cx="364.77" cy="340.20" r="4.5" fill-opacity="0.290"/><circle cx="364.77" cy="340.05" r="4.5" fill-opacity="0.288"/><circle cx="370.10" cy="331.16" r="4.5" fill-opacity="0.290"/><circle cx="370.10" cy="331.31" r="4.5" fill-opacity="0.288"/><circle cx="370.10" cy="339.94" r="4.5" fill-opacity="0.290"/><circle cx="370.10" cy="339.80" r="4.5" fill-opacity="0.288"/><circle cx="375.43" cy="331.39" r="4.5" fill-opacity="0.290"/><circle cx="375.43" cy="331.53" r="4.5" fill-opacity="0.289"/><circle cx="375.43" cy="339.71" r="4.5" fill-opacity="0.290"/><circle cx="375.43" cy="339.57" r="4.5" fill-opacity="0.289"/><circle cx="380.75" cy="331.61" r="4.5" fill-opacity="0.290"/><circle cx="380.75" cy="331.74" r="4.5" fill-opacity="0.289"/><circle cx="380.75" cy="339.48" r="4.5" fill-opacity="0.290"/><circle cx="380.75" cy="339.36" r="4.5" fill-opacity="0.289"/><circle cx="386.08" cy="331.81" r="4.5" fill-opacity="0.290"/><circle cx="386.08" cy="331.93" r="4.5" fill-opacity="0.289"/><circle cx="386.08" cy="339.28" r="4.5" fill-opacity="0.290"/><circle cx="386.08" cy="339.16" r="4.5" fill-opacity="0.289"/><circle cx="391.40" cy="332.00" r="4.5" fill-opacity="0.290"/><circle cx="391.40" cy="332.11" r="4.5" fill-opacity="0.289"/><circle cx="391.40" cy="339.08" r="4.5" fill-opacity="0.290"/><circle cx="391.40" cy="338.97" r="4.5" fill-opacity="0.289"/><circle cx="396.73" cy="332.18" r="4.5" fill-opacity="0.290"/><circle cx="396.73" cy="332.28" r="4.5" fill-opacity="0.290"/><circle cx="396.73" cy="338.91" r="4.5" fill-opacity="0.290"/><circle cx="396.73" cy="338.80" r="4.5" fill-opacity="0.290"/><circle cx="402.05" cy="332.34" r="4.5" fill-opacity="0.290"/><circle cx="402.05" cy="332.44" r="4.5" fill-opacity="0.290"/><circle cx="402.05" cy="338.74" r="4.5" fill-opacity="0.290"/><circle cx="402.05" cy="338.64" r="4.5" fill-opacity="0.290"/></g>
</g>
<g stroke="#000" stroke-width="2.2" fill="none"><path d="M189.05 447.5v-10.5M189.05 223.5v10.5"/><path d="M295.55 447.5v-10.5M295.55 223.5v10.5"/><path d="M135.35 410.20h10.5M402.5 410.20h-10.5"/><path d="M135.35 335.50h10.5M402.5 335.50h-10.5"/><path d="M135.35 260.80h10.5M402.5 260.80h-10.5"/></g>
<g stroke="#000" stroke-width="1.4" fill="none"><path d="M146.45 447.5v-5.8M146.45 223.5v5.8"/><path d="M167.75 447.5v-5.8M167.75 223.5v5.8"/><path d="M210.35 447.5v-5.8M210.35 223.5v5.8"/><path d="M231.65 447.5v-5.8M231.65 223.5v5.8"/><path d="M252.95 447.5v-5.8M252.95 223.5v5.8"/><path d="M274.25 447.5v-5.8M274.25 223.5v5.8"/><path d="M316.85 447.5v-5.8M316.85 223.5v5.8"/><path d="M338.15 447.5v-5.8M338.15 223.5v5.8"/><path d="M359.45 447.5v-5.8M359.45 223.5v5.8"/><path d="M380.75 447.5v-5.8M380.75 223.5v5.8"/><path d="M135.35 440.08h6.3M402.5 440.08h-6.3"/><path d="M135.35 425.14h6.3M402.5 425.14h-6.3"/><path d="M135.35 395.26h6.3M402.5 395.26h-6.3"/><path d="M135.35 380.32h6.3M402.5 380.32h-6.3"/><path d="M135.35 365.38h6.3M402.5 365.38h-6.3"/><path d="M135.35 350.44h6.3M402.5 350.44h-6.3"/><path d="M135.35 320.56h6.3M402.5 320.56h-6.3"/><path d="M135.35 305.62h6.3M402.5 305.62h-6.3"/><path d="M135.35 290.68h6.3M402.5 290.68h-6.3"/><path d="M135.35 275.74h6.3M402.5 275.74h-6.3"/><path d="M135.35 245.86h6.3M402.5 245.86h-6.3"/><path d="M135.35 230.92h6.3M402.5 230.92h-6.3"/></g>
<rect x="233.3" y="372.0" width="167.09999999999997" height="71.60000000000002" rx="3" ry="3" fill="#fff" fill-opacity="0.8" stroke="#cccccc" stroke-opacity="0.8" stroke-width="1.3"/>
<circle cx="255.2" cy="383.6" r="4.5" fill="#0000f5"/>
<circle cx="255.2" cy="408.0" r="4.5" fill="#ea3323"/>
<circle cx="255.2" cy="432.2" r="4.5" fill="#000000"/>
<text transform="translate(277.09 389.87) scale(1.030 1)" font-size="21.44" font-family="Liberation Serif, DejaVu Serif, serif" fill="#000">|</text>
<text transform="translate(282.61 389.90) scale(1.224 1)" font-size="19.50" font-family="Liberation Serif, DejaVu Serif, serif" fill="#000" stroke="#000" stroke-width="0.25">R</text>
<text transform="translate(299.00 389.90) scale(1.155 1)" font-size="19.50" font-family="Liberation Serif, DejaVu Serif, serif" fill="#000" stroke="#000" stroke-width="0.25">b</text>
<text transform="translate(312.65 389.90) scale(1.274 1)" font-size="19.50" font-family="Liberation Serif, DejaVu Serif, serif" fill="#000" stroke="#000" stroke-width="0.25">,</text>
<text transform="translate(322.67 389.90) scale(1.171 1)" font-size="19.50" font-family="Liberation Serif, DejaVu Serif, serif" fill="#000" stroke="#000" stroke-width="0.25">5</text>
<text transform="translate(333.38 389.90) scale(1.142 1)" font-size="19.50" font-family="Liberation Serif, DejaVu Serif, serif" fill="#000" stroke="#000" stroke-width="0.25">9</text>
<text transform="translate(343.76 389.90) scale(1.328 1)" font-size="19.50" font-family="Liberation Serif, DejaVu Serif, serif" fill="#000" stroke="#000" stroke-width="0.25">d</text>
<text transform="translate(358.20 392.50) scale(1.453 1)" font-size="12.98" font-family="Liberation Serif, DejaVu Serif, serif" fill="#000" stroke="#000" stroke-width="0.2">5</text>
<text transform="translate(368.80 395.51) scale(1.496 1)" font-size="19.73" font-family="Liberation Serif, DejaVu Serif, serif" fill="#000">/</text>
<text transform="translate(377.90 392.50) scale(1.593 1)" font-size="12.84" font-family="Liberation Serif, DejaVu Serif, serif" fill="#000" stroke="#000" stroke-width="0.2">2</text>
<text transform="translate(387.82 391.10) scale(0.881 1)" font-size="23.10" font-family="DejaVu Math TeX Gyre, DejaVu Serif, DejaVu Sans, serif" fill="#000" stroke="#fff" stroke-width="0.35" paint-order="fill stroke">⟩</text>
<text transform="translate(277.09 413.67) scale(1.030 1)" font-size="21.44" font-family="Liberation Serif, DejaVu Serif, serif" fill="#000">|</text>
<text transform="translate(282.34 413.70) scale(1.195 1)" font-size="19.50" font-family="Liberation Serif, DejaVu Serif, serif" fill="#000" stroke="#000" stroke-width="0.25">C</text>
<text transform="translate(296.52 413.70) scale(1.348 1)" font-size="19.50" font-family="Liberation Serif, DejaVu Serif, serif" fill="#000" stroke="#000" stroke-width="0.25">s</text>
<text transform="translate(308.45 413.70) scale(1.274 1)" font-size="19.50" font-family="Liberation Serif, DejaVu Serif, serif" fill="#000" stroke="#000" stroke-width="0.25">,</text>
<text transform="translate(318.87 413.70) scale(1.104 1)" font-size="19.50" font-family="Liberation Serif, DejaVu Serif, serif" fill="#000" stroke="#000" stroke-width="0.25">6</text>
<text transform="translate(329.28 413.70) scale(1.101 1)" font-size="19.50" font-family="Liberation Serif, DejaVu Serif, serif" fill="#000" stroke="#000" stroke-width="0.25">8</text>
<text transform="translate(339.56 413.70) scale(1.340 1)" font-size="19.50" font-family="Liberation Serif, DejaVu Serif, serif" fill="#000" stroke="#000" stroke-width="0.25">d</text>
<text transform="translate(354.22 416.30) scale(1.433 1)" font-size="12.84" font-family="Liberation Serif, DejaVu Serif, serif" fill="#000" stroke="#000" stroke-width="0.2">3</text>
<text transform="translate(364.60 419.31) scale(1.496 1)" font-size="19.73" font-family="Liberation Serif, DejaVu Serif, serif" fill="#000">/</text>
<text transform="translate(373.70 416.30) scale(1.593 1)" font-size="12.84" font-family="Liberation Serif, DejaVu Serif, serif" fill="#000" stroke="#000" stroke-width="0.2">2</text>
<text transform="translate(383.70 414.90) scale(0.896 1)" font-size="23.10" font-family="DejaVu Math TeX Gyre, DejaVu Serif, DejaVu Sans, serif" fill="#000" stroke="#fff" stroke-width="0.35" paint-order="fill stroke">⟩</text>
<text transform="translate(277.09 437.37) scale(1.030 1)" font-size="21.44" font-family="Liberation Serif, DejaVu Serif, serif" fill="#000">|</text>
<text transform="translate(282.61 437.40) scale(1.224 1)" font-size="19.50" font-family="Liberation Serif, DejaVu Serif, serif" fill="#000" stroke="#000" stroke-width="0.25">R</text>
<text transform="translate(299.00 437.40) scale(1.155 1)" font-size="19.50" font-family="Liberation Serif, DejaVu Serif, serif" fill="#000" stroke="#000" stroke-width="0.25">b</text>
<text transform="translate(310.13 438.60) scale(0.957 1)" font-size="23.10" font-family="DejaVu Math TeX Gyre, DejaVu Serif, DejaVu Sans, serif" fill="#000" stroke="#fff" stroke-width="0.35" paint-order="fill stroke">⟩</text>
<text transform="translate(325.75 438.79) scale(1.033 1)" font-size="23.58" font-family="DejaVu Math TeX Gyre, DejaVu Serif, DejaVu Sans, serif" fill="#000" stroke="#fff" stroke-width="0.45" paint-order="fill stroke">⊗</text>
<text transform="translate(350.09 437.37) scale(1.030 1)" font-size="21.44" font-family="Liberation Serif, DejaVu Serif, serif" fill="#000">|</text>
<text transform="translate(355.02 437.40) scale(1.231 1)" font-size="19.50" font-family="Liberation Serif, DejaVu Serif, serif" fill="#000" stroke="#000" stroke-width="0.25">C</text>
<text transform="translate(369.52 437.40) scale(1.348 1)" font-size="19.50" font-family="Liberation Serif, DejaVu Serif, serif" fill="#000" stroke="#000" stroke-width="0.25">s</text>
<text transform="translate(380.31 438.60) scale(0.972 1)" font-size="23.10" font-family="DejaVu Math TeX Gyre, DejaVu Serif, DejaVu Sans, serif" fill="#000" stroke="#fff" stroke-width="0.35" paint-order="fill stroke">⟩</text>
<rect x="135.35" y="223.5" width="267.15" height="224.0" fill="none" stroke="#000" stroke-width="2.4"/>
</g>
<g id="axb">
<g stroke="#b0b0b0" stroke-width="1.75"><line x1="475.20" y1="223.5" x2="475.20" y2="447.5"/><line x1="581.95" y1="223.5" x2="581.95" y2="447.5"/><line x1="422.5" y1="410.20" x2="688.7" y2="410.20"/><line x1="422.5" y1="335.50" x2="688.7" y2="335.50"/><line x1="422.5" y1="260.80" x2="688.7" y2="260.80"/></g>
<clipPath id="clipb"><rect x="422.5" y="223.5" width="266.20000000000005" height="224.0"/></clipPath>
<g clip-path="url(#clipb)">
<g fill="#0000f5"><circle cx="464.52" cy="232.41" r="4.5" fill-opacity="0.850"/><circle cx="469.86" cy="259.08" r="4.5" fill-opacity="1.000"/><circle cx="475.20" cy="279.25" r="4.5" fill-opacity="1.000"/><circle cx="480.54" cy="293.00" r="4.5" fill-opacity="1.000"/><circle cx="485.88" cy="302.56" r="4.5" fill-opacity="1.000"/><circle cx="491.21" cy="310.55" r="4.5" fill-opacity="1.000"/><circle cx="496.55" cy="316.61" r="4.5" fill-opacity="1.000"/><circle cx="501.89" cy="320.71" r="4.5" fill-opacity="1.000"/><circle cx="507.23" cy="323.81" r="4.5" fill-opacity="1.000"/><circle cx="512.56" cy="326.18" r="4.5" fill-opacity="1.000"/><circle cx="517.90" cy="328.01" r="4.5" fill-opacity="1.000"/><circle cx="523.24" cy="329.43" r="4.5" fill-opacity="1.000"/><circle cx="528.58" cy="330.55" r="4.5" fill-opacity="1.000"/><circle cx="533.91" cy="331.43" r="4.5" fill-opacity="1.000"/><circle cx="539.25" cy="332.14" r="4.5" fill-opacity="1.000"/><circle cx="544.59" cy="332.70" r="4.5" fill-opacity="1.000"/><circle cx="549.92" cy="333.16" r="4.5" fill-opacity="1.000"/><circle cx="555.26" cy="333.54" r="4.5" fill-opacity="1.000"/><circle cx="560.60" cy="333.84" r="4.5" fill-opacity="1.000"/><circle cx="565.94" cy="334.09" r="4.5" fill-opacity="1.000"/><circle cx="571.27" cy="334.30" r="4.5" fill-opacity="1.000"/><circle cx="576.61" cy="334.47" r="4.5" fill-opacity="1.000"/><circle cx="581.95" cy="334.62" r="4.5" fill-opacity="1.000"/><circle cx="587.29" cy="334.74" r="4.5" fill-opacity="1.000"/><circle cx="592.62" cy="334.84" r="4.5" fill-opacity="1.000"/><circle cx="597.96" cy="334.93" r="4.5" fill-opacity="1.000"/><circle cx="603.30" cy="335.00" r="4.5" fill-opacity="1.000"/><circle cx="608.64" cy="335.07" r="4.5" fill-opacity="1.000"/><circle cx="613.98" cy="335.12" r="4.5" fill-opacity="1.000"/><circle cx="619.31" cy="335.17" r="4.5" fill-opacity="1.000"/><circle cx="624.65" cy="335.20" r="4.5" fill-opacity="1.000"/><circle cx="629.99" cy="335.24" r="4.5" fill-opacity="1.000"/><circle cx="635.33" cy="335.27" r="4.5" fill-opacity="1.000"/><circle cx="640.66" cy="335.29" r="4.5" fill-opacity="1.000"/><circle cx="646.00" cy="335.32" r="4.5" fill-opacity="1.000"/><circle cx="651.34" cy="335.34" r="4.5" fill-opacity="1.000"/><circle cx="656.67" cy="335.35" r="4.5" fill-opacity="1.000"/><circle cx="662.01" cy="335.37" r="4.5" fill-opacity="1.000"/><circle cx="667.35" cy="335.38" r="4.5" fill-opacity="1.000"/><circle cx="672.69" cy="335.39" r="4.5" fill-opacity="1.000"/><circle cx="678.02" cy="335.41" r="4.5" fill-opacity="1.000"/><circle cx="683.36" cy="335.41" r="4.5" fill-opacity="1.000"/><circle cx="688.70" cy="335.42" r="4.5" fill-opacity="1.000"/></g>
<g fill="#ea3323"><circle cx="469.86" cy="248.85" r="4.5" fill-opacity="0.900"/><circle cx="475.20" cy="268.94" r="4.5" fill-opacity="1.000"/><circle cx="480.54" cy="284.93" r="4.5" fill-opacity="1.000"/><circle cx="485.88" cy="295.68" r="4.5" fill-opacity="1.000"/><circle cx="491.21" cy="304.87" r="4.5" fill-opacity="1.000"/><circle cx="496.55" cy="311.67" r="4.5" fill-opacity="1.000"/><circle cx="501.89" cy="317.08" r="4.5" fill-opacity="1.000"/><circle cx="507.23" cy="320.94" r="4.5" fill-opacity="1.000"/><circle cx="512.56" cy="323.89" r="4.5" fill-opacity="1.000"/><circle cx="517.90" cy="326.17" r="4.5" fill-opacity="1.000"/><circle cx="523.24" cy="327.94" r="4.5" fill-opacity="1.000"/><circle cx="528.58" cy="329.33" r="4.5" fill-opacity="1.000"/><circle cx="533.91" cy="330.43" r="4.5" fill-opacity="1.000"/><circle cx="539.25" cy="331.31" r="4.5" fill-opacity="1.000"/><circle cx="544.59" cy="332.02" r="4.5" fill-opacity="1.000"/><circle cx="549.92" cy="332.59" r="4.5" fill-opacity="1.000"/><circle cx="555.26" cy="333.05" r="4.5" fill-opacity="1.000"/><circle cx="560.60" cy="333.43" r="4.5" fill-opacity="1.000"/><circle cx="565.94" cy="333.75" r="4.5" fill-opacity="1.000"/><circle cx="571.27" cy="334.01" r="4.5" fill-opacity="1.000"/><circle cx="576.61" cy="334.22" r="4.5" fill-opacity="1.000"/><circle cx="581.95" cy="334.40" r="4.5" fill-opacity="1.000"/><circle cx="587.29" cy="334.55" r="4.5" fill-opacity="1.000"/><circle cx="592.62" cy="334.68" r="4.5" fill-opacity="1.000"/><circle cx="597.96" cy="334.79" r="4.5" fill-opacity="1.000"/><circle cx="603.30" cy="334.88" r="4.5" fill-opacity="1.000"/><circle cx="608.64" cy="334.96" r="4.5" fill-opacity="1.000"/><circle cx="613.98" cy="335.03" r="4.5" fill-opacity="1.000"/><circle cx="619.31" cy="335.08" r="4.5" fill-opacity="1.000"/><circle cx="624.65" cy="335.13" r="4.5" fill-opacity="1.000"/><circle cx="629.99" cy="335.18" r="4.5" fill-opacity="1.000"/><circle cx="635.33" cy="335.21" r="4.5" fill-opacity="1.000"/><circle cx="640.66" cy="335.24" r="4.5" fill-opacity="1.000"/><circle cx="646.00" cy="335.27" r="4.5" fill-opacity="1.000"/><circle cx="651.34" cy="335.30" r="4.5" fill-opacity="1.000"/><circle cx="656.67" cy="335.32" r="4.5" fill-opacity="1.000"/><circle cx="662.01" cy="335.34" r="4.5" fill-opacity="1.000"/><circle cx="667.35" cy="335.35" r="4.5" fill-opacity="1.000"/><circle cx="672.69" cy="335.37" r="4.5" fill-opacity="1.000"/><circle cx="678.02" cy="335.38" r="4.5" fill-opacity="1.000"/><circle cx="683.36" cy="335.39" r="4.5" fill-opacity="1.000"/><circle cx="688.70" cy="335.40" r="4.5" fill-opacity="1.000"/></g>
<g fill="#000000"><circle cx="437.84" cy="275.74" r="4.5" fill-opacity="0.010"/><circle cx="443.17" cy="267.07" r="4.5" fill-opacity="0.041"/><circle cx="448.51" cy="262.52" r="4.5" fill-opacity="0.103"/><circle cx="453.85" cy="261.40" r="4.5" fill-opacity="0.208"/><circle cx="453.85" cy="446.06" r="4.5" fill-opacity="0.042"/><circle cx="459.19" cy="263.71" r="4.5" fill-opacity="0.275"/><circle cx="459.19" cy="443.44" r="4.5" fill-opacity="0.083"/><circle cx="464.52" cy="268.27" r="4.5" fill-opacity="0.343"/><circle cx="464.52" cy="434.85" r="4.5" fill-opacity="0.185"/><circle cx="469.86" cy="273.95" r="4.5" fill-opacity="0.400"/><circle cx="469.86" cy="423.65" r="4.5" fill-opacity="0.284"/><circle cx="475.20" cy="279.25" r="4.5" fill-opacity="0.458"/><circle cx="475.20" cy="413.49" r="4.5" fill-opacity="0.401"/><circle cx="480.54" cy="284.93" r="4.5" fill-opacity="0.483"/><circle cx="480.54" cy="405.05" r="4.5" fill-opacity="0.396"/><circle cx="485.88" cy="290.01" r="4.5" fill-opacity="0.510"/><circle cx="485.88" cy="397.35" r="4.5" fill-opacity="0.390"/><circle cx="491.21" cy="294.56" r="4.5" fill-opacity="0.538"/><circle cx="491.21" cy="390.18" r="4.5" fill-opacity="0.384"/><circle cx="496.55" cy="299.12" r="4.5" fill-opacity="0.566"/><circle cx="496.55" cy="384.50" r="4.5" fill-opacity="0.377"/><circle cx="501.89" cy="303.01" r="4.5" fill-opacity="0.575"/><circle cx="501.89" cy="378.55" r="4.5" fill-opacity="0.370"/><circle cx="507.23" cy="305.92" r="4.5" fill-opacity="0.584"/><circle cx="507.23" cy="374.49" r="4.5" fill-opacity="0.362"/><circle cx="512.56" cy="309.43" r="4.5" fill-opacity="0.594"/><circle cx="512.56" cy="371.02" r="4.5" fill-opacity="0.354"/><circle cx="517.90" cy="311.67" r="4.5" fill-opacity="0.604"/><circle cx="517.90" cy="368.04" r="4.5" fill-opacity="0.345"/><circle cx="523.24" cy="314.36" r="4.5" fill-opacity="0.615"/><circle cx="523.24" cy="365.47" r="4.5" fill-opacity="0.335"/><circle cx="528.58" cy="316.68" r="4.5" fill-opacity="0.626"/><circle cx="528.58" cy="363.25" r="4.5" fill-opacity="0.325"/><circle cx="533.91" cy="318.99" r="4.5" fill-opacity="0.639"/><circle cx="533.91" cy="361.31" r="4.5" fill-opacity="0.314"/><circle cx="539.25" cy="320.86" r="4.5" fill-opacity="0.651"/><circle cx="539.25" cy="359.62" r="4.5" fill-opacity="0.303"/><circle cx="544.59" cy="322.69" r="4.5" fill-opacity="0.664"/><circle cx="544.59" cy="358.15" r="4.5" fill-opacity="0.292"/><circle cx="549.92" cy="324.26" r="4.5" fill-opacity="0.678"/><circle cx="549.92" cy="356.85" r="4.5" fill-opacity="0.280"/><circle cx="555.26" cy="325.67" r="4.5" fill-opacity="0.692"/><circle cx="555.26" cy="355.71" r="4.5" fill-opacity="0.268"/><circle cx="560.60" cy="326.95" r="4.5" fill-opacity="0.706"/><circle cx="560.60" cy="354.71" r="4.5" fill-opacity="0.256"/><circle cx="565.94" cy="328.11" r="4.5" fill-opacity="0.720"/><circle cx="565.94" cy="353.82" r="4.5" fill-opacity="0.243"/><circle cx="571.27" cy="329.16" r="4.5" fill-opacity="0.735"/><circle cx="571.27" cy="353.04" r="4.5" fill-opacity="0.231"/><circle cx="576.61" cy="329.86" r="4.5" fill-opacity="0.749"/><circle cx="576.61" cy="352.35" r="4.5" fill-opacity="0.218"/><circle cx="581.95" cy="330.47" r="4.5" fill-opacity="0.763"/><circle cx="581.95" cy="351.74" r="4.5" fill-opacity="0.206"/><circle cx="587.29" cy="331.01" r="4.5" fill-opacity="0.778"/><circle cx="587.29" cy="351.19" r="4.5" fill-opacity="0.193"/><circle cx="592.62" cy="331.49" r="4.5" fill-opacity="0.791"/><circle cx="592.62" cy="350.71" r="4.5" fill-opacity="0.181"/><circle cx="597.96" cy="331.92" r="4.5" fill-opacity="0.805"/><circle cx="597.96" cy="350.29" r="4.5" fill-opacity="0.170"/><circle cx="603.30" cy="332.30" r="4.5" fill-opacity="0.818"/><circle cx="603.30" cy="349.91" r="4.5" fill-opacity="0.158"/><circle cx="608.64" cy="332.64" r="4.5" fill-opacity="0.831"/><circle cx="608.64" cy="349.57" r="4.5" fill-opacity="0.147"/><circle cx="613.98" cy="332.93" r="4.5" fill-opacity="0.843"/><circle cx="613.98" cy="349.27" r="4.5" fill-opacity="0.137"/><circle cx="619.31" cy="333.20" r="4.5" fill-opacity="0.855"/><circle cx="619.31" cy="349.00" r="4.5" fill-opacity="0.127"/><circle cx="624.65" cy="333.44" r="4.5" fill-opacity="0.865"/><circle cx="624.65" cy="348.77" r="4.5" fill-opacity="0.117"/><circle cx="629.99" cy="333.65" r="4.5" fill-opacity="0.876"/><circle cx="629.99" cy="348.56" r="4.5" fill-opacity="0.108"/><circle cx="635.33" cy="333.84" r="4.5" fill-opacity="0.885"/><circle cx="635.33" cy="348.37" r="4.5" fill-opacity="0.100"/><circle cx="640.66" cy="334.00" r="4.5" fill-opacity="0.895"/><circle cx="640.66" cy="348.20" r="4.5" fill-opacity="0.092"/><circle cx="646.00" cy="334.15" r="4.5" fill-opacity="0.903"/><circle cx="646.00" cy="348.05" r="4.5" fill-opacity="0.084"/><circle cx="651.34" cy="334.28" r="4.5" fill-opacity="0.911"/><circle cx="651.34" cy="347.92" r="4.5" fill-opacity="0.078"/><circle cx="656.67" cy="334.40" r="4.5" fill-opacity="0.918"/><circle cx="656.67" cy="347.80" r="4.5" fill-opacity="0.071"/><circle cx="662.01" cy="334.51" r="4.5" fill-opacity="0.925"/><circle cx="662.01" cy="347.70" r="4.5" fill-opacity="0.065"/><circle cx="667.35" cy="334.60" r="4.5" fill-opacity="0.931"/><circle cx="667.35" cy="347.60" r="4.5" fill-opacity="0.060"/><circle cx="672.69" cy="334.69" r="4.5" fill-opacity="0.937"/><circle cx="672.69" cy="347.52" r="4.5" fill-opacity="0.055"/><circle cx="678.02" cy="334.76" r="4.5" fill-opacity="0.942"/><circle cx="678.02" cy="347.44" r="4.5" fill-opacity="0.051"/><circle cx="683.36" cy="334.83" r="4.5" fill-opacity="0.947"/><circle cx="683.36" cy="347.37" r="4.5" fill-opacity="0.046"/><circle cx="688.70" cy="334.89" r="4.5" fill-opacity="0.951"/><circle cx="688.70" cy="347.31" r="4.5" fill-opacity="0.043"/><circle cx="443.17" cy="231.67" r="4.5" fill-opacity="0.070"/><circle cx="448.51" cy="231.67" r="4.5" fill-opacity="0.080"/><circle cx="453.85" cy="235.40" r="4.5" fill-opacity="0.100"/><circle cx="459.19" cy="241.38" r="4.5" fill-opacity="0.100"/><circle cx="464.52" cy="248.85" r="4.5" fill-opacity="0.080"/><circle cx="469.86" cy="256.32" r="4.5" fill-opacity="0.070"/><circle cx="475.20" cy="263.04" r="4.5" fill-opacity="0.070"/><circle cx="480.54" cy="269.39" r="4.5" fill-opacity="0.080"/><circle cx="485.88" cy="275.07" r="4.5" fill-opacity="0.080"/><circle cx="491.21" cy="280.82" r="4.5" fill-opacity="0.080"/><circle cx="496.55" cy="285.45" r="4.5" fill-opacity="0.070"/><circle cx="501.89" cy="289.93" r="4.5" fill-opacity="0.060"/><circle cx="507.23" cy="294.04" r="4.5" fill-opacity="0.050"/><circle cx="512.56" cy="297.78" r="4.5" fill-opacity="0.040"/><circle cx="517.90" cy="301.14" r="4.5" fill-opacity="0.030"/><circle cx="560.60" cy="323.55" r="4.5" fill-opacity="0.025"/><circle cx="565.94" cy="323.70" r="4.5" fill-opacity="0.025"/><circle cx="571.27" cy="323.85" r="4.5" fill-opacity="0.025"/><circle cx="576.61" cy="324.00" r="4.5" fill-opacity="0.025"/><circle cx="581.95" cy="324.15" r="4.5" fill-opacity="0.025"/><circle cx="587.29" cy="324.30" r="4.5" fill-opacity="0.025"/><circle cx="592.62" cy="324.44" r="4.5" fill-opacity="0.025"/><circle cx="597.96" cy="324.59" r="4.5" fill-opacity="0.025"/><circle cx="603.30" cy="324.74" r="4.5" fill-opacity="0.025"/><circle cx="608.64" cy="324.89" r="4.5" fill-opacity="0.025"/><circle cx="613.98" cy="325.04" r="4.5" fill-opacity="0.025"/><circle cx="619.31" cy="325.19" r="4.5" fill-opacity="0.025"/><circle cx="624.65" cy="325.34" r="4.5" fill-opacity="0.025"/><circle cx="629.99" cy="325.49" r="4.5" fill-opacity="0.025"/><circle cx="635.33" cy="325.64" r="4.5" fill-opacity="0.025"/><circle cx="640.66" cy="325.79" r="4.5" fill-opacity="0.025"/><circle cx="646.00" cy="325.94" r="4.5" fill-opacity="0.025"/><circle cx="651.34" cy="326.09" r="4.5" fill-opacity="0.025"/><circle cx="656.67" cy="326.24" r="4.5" fill-opacity="0.025"/><circle cx="662.01" cy="326.39" r="4.5" fill-opacity="0.025"/><circle cx="667.35" cy="326.54" r="4.5" fill-opacity="0.025"/><circle cx="672.69" cy="326.69" r="4.5" fill-opacity="0.025"/><circle cx="678.02" cy="326.83" r="4.5" fill-opacity="0.025"/><circle cx="683.36" cy="326.98" r="4.5" fill-opacity="0.025"/><circle cx="688.70" cy="327.13" r="4.5" fill-opacity="0.025"/><circle cx="432.50" cy="281.72" r="4.5" fill-opacity="0.030"/><circle cx="437.84" cy="301.88" r="4.5" fill-opacity="0.030"/><circle cx="432.50" cy="314.58" r="4.5" fill-opacity="0.030"/><circle cx="443.17" cy="311.60" r="4.5" fill-opacity="0.030"/><circle cx="448.51" cy="316.82" r="4.5" fill-opacity="0.025"/><circle cx="427.16" cy="372.85" r="4.5" fill-opacity="0.025"/><circle cx="432.50" cy="425.14" r="4.5" fill-opacity="0.020"/></g>
</g>
<g stroke="#000" stroke-width="2.2" fill="none"><path d="M475.20 447.5v-10.5M475.20 223.5v10.5"/><path d="M581.95 447.5v-10.5M581.95 223.5v10.5"/><path d="M422.5 410.20h10.5M688.7 410.20h-10.5"/><path d="M422.5 335.50h10.5M688.7 335.50h-10.5"/><path d="M422.5 260.80h10.5M688.7 260.80h-10.5"/></g>
<g stroke="#000" stroke-width="1.4" fill="none"><path d="M432.50 447.5v-5.8M432.50 223.5v5.8"/><path d="M453.85 447.5v-5.8M453.85 223.5v5.8"/><path d="M496.55 447.5v-5.8M496.55 223.5v5.8"/><path d="M517.90 447.5v-5.8M517.90 223.5v5.8"/><path d="M539.25 447.5v-5.8M539.25 223.5v5.8"/><path d="M560.60 447.5v-5.8M560.60 223.5v5.8"/><path d="M603.30 447.5v-5.8M603.30 223.5v5.8"/><path d="M624.65 447.5v-5.8M624.65 223.5v5.8"/><path d="M646.00 447.5v-5.8M646.00 223.5v5.8"/><path d="M667.35 447.5v-5.8M667.35 223.5v5.8"/><path d="M422.5 440.08h6.3M688.7 440.08h-6.3"/><path d="M422.5 425.14h6.3M688.7 425.14h-6.3"/><path d="M422.5 395.26h6.3M688.7 395.26h-6.3"/><path d="M422.5 380.32h6.3M688.7 380.32h-6.3"/><path d="M422.5 365.38h6.3M688.7 365.38h-6.3"/><path d="M422.5 350.44h6.3M688.7 350.44h-6.3"/><path d="M422.5 320.56h6.3M688.7 320.56h-6.3"/><path d="M422.5 305.62h6.3M688.7 305.62h-6.3"/><path d="M422.5 290.68h6.3M688.7 290.68h-6.3"/><path d="M422.5 275.74h6.3M688.7 275.74h-6.3"/><path d="M422.5 245.86h6.3M688.7 245.86h-6.3"/><path d="M422.5 230.92h6.3M688.7 230.92h-6.3"/></g>
<rect x="523.0" y="372.0" width="163.39999999999998" height="71.60000000000002" rx="3" ry="3" fill="#fff" fill-opacity="0.8" stroke="#cccccc" stroke-opacity="0.8" stroke-width="1.3"/>
<circle cx="545.2" cy="383.6" r="4.5" fill="#0000f5"/>
<circle cx="545.2" cy="408.0" r="4.5" fill="#ea3323"/>
<circle cx="545.2" cy="432.2" r="4.5" fill="#000000"/>
<text transform="translate(567.29 389.87) scale(1.030 1)" font-size="21.44" font-family="Liberation Serif, DejaVu Serif, serif" fill="#000">|</text>
<text transform="translate(573.02 389.90) scale(1.216 1)" font-size="19.50" font-family="Liberation Serif, DejaVu Serif, serif" fill="#000" stroke="#000" stroke-width="0.25">R</text>
<text transform="translate(589.20 389.90) scale(1.177 1)" font-size="19.50" font-family="Liberation Serif, DejaVu Serif, serif" fill="#000" stroke="#000" stroke-width="0.25">b</text>
<text transform="translate(602.85 389.90) scale(1.274 1)" font-size="19.50" font-family="Liberation Serif, DejaVu Serif, serif" fill="#000" stroke="#000" stroke-width="0.25">,</text>
<text transform="translate(612.69 389.90) scale(1.177 1)" font-size="19.50" font-family="Liberation Serif, DejaVu Serif, serif" fill="#000" stroke="#000" stroke-width="0.25">7</text>
<text transform="translate(623.52 389.90) scale(1.139 1)" font-size="19.50" font-family="Liberation Serif, DejaVu Serif, serif" fill="#000" stroke="#000" stroke-width="0.25">2</text>
<text transform="translate(633.82 389.90) scale(1.348 1)" font-size="19.50" font-family="Liberation Serif, DejaVu Serif, serif" fill="#000" stroke="#000" stroke-width="0.25">s</text>
<text transform="translate(644.80 392.50) scale(1.412 1)" font-size="12.88" font-family="Liberation Serif, DejaVu Serif, serif" fill="#000" stroke="#000" stroke-width="0.2">1</text>
<text transform="translate(654.90 395.51) scale(1.514 1)" font-size="19.73" font-family="Liberation Serif, DejaVu Serif, serif" fill="#000">/</text>
<text transform="translate(664.10 392.50) scale(1.593 1)" font-size="12.84" font-family="Liberation Serif, DejaVu Serif, serif" fill="#000" stroke="#000" stroke-width="0.2">2</text>
<text transform="translate(674.28 391.10) scale(0.911 1)" font-size="23.10" font-family="DejaVu Math TeX Gyre, DejaVu Serif, DejaVu Sans, serif" fill="#000" stroke="#fff" stroke-width="0.35" paint-order="fill stroke">⟩</text>
<text transform="translate(567.29 413.67) scale(1.030 1)" font-size="21.44" font-family="Liberation Serif, DejaVu Serif, serif" fill="#000">|</text>
<text transform="translate(572.74 413.70) scale(1.195 1)" font-size="19.50" font-family="Liberation Serif, DejaVu Serif, serif" fill="#000" stroke="#000" stroke-width="0.25">C</text>
<text transform="translate(586.72 413.70) scale(1.348 1)" font-size="19.50" font-family="Liberation Serif, DejaVu Serif, serif" fill="#000" stroke="#000" stroke-width="0.25">s</text>
<text transform="translate(598.65 413.70) scale(1.274 1)" font-size="19.50" font-family="Liberation Serif, DejaVu Serif, serif" fill="#000" stroke="#000" stroke-width="0.25">,</text>
<text transform="translate(608.72 413.70) scale(1.151 1)" font-size="19.50" font-family="Liberation Serif, DejaVu Serif, serif" fill="#000" stroke="#000" stroke-width="0.25">7</text>
<text transform="translate(618.99 413.70) scale(1.158 1)" font-size="19.50" font-family="Liberation Serif, DejaVu Serif, serif" fill="#000" stroke="#000" stroke-width="0.25">5</text>
<text transform="translate(629.62 413.70) scale(1.348 1)" font-size="19.50" font-family="Liberation Serif, DejaVu Serif, serif" fill="#000" stroke="#000" stroke-width="0.25">s</text>
<text transform="translate(640.60 416.30) scale(1.412 1)" font-size="12.88" font-family="Liberation Serif, DejaVu Serif, serif" fill="#000" stroke="#000" stroke-width="0.2">1</text>
<text transform="translate(650.70 419.31) scale(1.514 1)" font-size="19.73" font-family="Liberation Serif, DejaVu Serif, serif" fill="#000">/</text>
<text transform="translate(659.90 416.30) scale(1.593 1)" font-size="12.84" font-family="Liberation Serif, DejaVu Serif, serif" fill="#000" stroke="#000" stroke-width="0.2">2</text>
<text transform="translate(670.32 414.90) scale(0.881 1)" font-size="23.10" font-family="DejaVu Math TeX Gyre, DejaVu Serif, DejaVu Sans, serif" fill="#000" stroke="#fff" stroke-width="0.35" paint-order="fill stroke">⟩</text>
<text transform="translate(567.29 437.37) scale(1.030 1)" font-size="21.44" font-family="Liberation Serif, DejaVu Serif, serif" fill="#000">|</text>
<text transform="translate(572.81 437.40) scale(1.224 1)" font-size="19.50" font-family="Liberation Serif, DejaVu Serif, serif" fill="#000" stroke="#000" stroke-width="0.25">R</text>
<text transform="translate(589.20 437.40) scale(1.155 1)" font-size="19.50" font-family="Liberation Serif, DejaVu Serif, serif" fill="#000" stroke="#000" stroke-width="0.25">b</text>
<text transform="translate(600.33 438.60) scale(0.957 1)" font-size="23.10" font-family="DejaVu Math TeX Gyre, DejaVu Serif, DejaVu Sans, serif" fill="#000" stroke="#fff" stroke-width="0.35" paint-order="fill stroke">⟩</text>
<text transform="translate(615.95 438.79) scale(1.033 1)" font-size="23.58" font-family="DejaVu Math TeX Gyre, DejaVu Serif, DejaVu Sans, serif" fill="#000" stroke="#fff" stroke-width="0.45" paint-order="fill stroke">⊗</text>
<text transform="translate(640.29 437.37) scale(1.030 1)" font-size="21.44" font-family="Liberation Serif, DejaVu Serif, serif" fill="#000">|</text>
<text transform="translate(645.22 437.40) scale(1.231 1)" font-size="19.50" font-family="Liberation Serif, DejaVu Serif, serif" fill="#000" stroke="#000" stroke-width="0.25">C</text>
<text transform="translate(659.72 437.40) scale(1.348 1)" font-size="19.50" font-family="Liberation Serif, DejaVu Serif, serif" fill="#000" stroke="#000" stroke-width="0.25">s</text>
<text transform="translate(670.51 438.60) scale(0.972 1)" font-size="23.10" font-family="DejaVu Math TeX Gyre, DejaVu Serif, DejaVu Sans, serif" fill="#000" stroke="#fff" stroke-width="0.35" paint-order="fill stroke">⟩</text>
<rect x="422.5" y="223.5" width="266.20000000000005" height="224.0" fill="none" stroke="#000" stroke-width="2.4"/>
</g>
<text transform="translate(181.26 485.20) scale(1.000 1)" font-size="30.00" font-family="Liberation Serif, DejaVu Serif, serif" fill="#000">5</text>
<text transform="translate(280.10 485.20) scale(1.000 1)" font-size="30.00" font-family="Liberation Serif, DejaVu Serif, serif" fill="#000">10</text>
<text transform="translate(386.62 485.20) scale(1.000 1)" font-size="30.00" font-family="Liberation Serif, DejaVu Serif, serif" fill="#000">15</text>
<text transform="translate(467.41 485.20) scale(1.000 1)" font-size="30.00" font-family="Liberation Serif, DejaVu Serif, serif" fill="#000">5</text>
<text transform="translate(566.50 485.20) scale(1.000 1)" font-size="30.00" font-family="Liberation Serif, DejaVu Serif, serif" fill="#000">10</text>
<text transform="translate(673.27 485.20) scale(1.000 1)" font-size="30.00" font-family="Liberation Serif, DejaVu Serif, serif" fill="#000">15</text>
<text transform="translate(81.27 271.90) scale(0.987 1)" font-size="30.00" font-family="Liberation Serif, DejaVu Serif, serif" fill="#000">0.1</text>
<text transform="translate(81.29 346.60) scale(0.968 1)" font-size="30.00" font-family="Liberation Serif, DejaVu Serif, serif" fill="#000">0.0</text>
<text transform="translate(81.27 421.30) scale(0.987 1)" font-size="30.00" font-family="Liberation Serif, DejaVu Serif, serif" fill="#000">0.1</text>
<text transform="translate(59.78 422.58) scale(1.368 1)" font-size="28.11" font-family="Liberation Serif, DejaVu Serif, serif" fill="#000">−</text>
<text transform="translate(222.88 524.00) scale(1.126 1)" font-size="29.78" font-family="Liberation Serif, DejaVu Serif, serif" font-style="italic" fill="#000">R</text>
<text transform="translate(253.22 523.81) scale(0.855 1)" font-size="31.43" font-family="Liberation Serif, DejaVu Serif, serif" fill="#000" stroke="#fff" stroke-width="0.3" paint-order="fill stroke">(</text>
<text transform="translate(265.23 524.00) scale(1.041 1)" font-size="30.07" font-family="Liberation Serif, DejaVu Serif, serif" font-style="italic" fill="#000">μ</text>
<text transform="translate(280.02 524.00) scale(1.101 1)" font-size="29.29" font-family="Liberation Serif, DejaVu Serif, serif" fill="#000">m</text>
<text transform="translate(306.02 523.81) scale(0.867 1)" font-size="31.43" font-family="Liberation Serif, DejaVu Serif, serif" fill="#000" stroke="#fff" stroke-width="0.3" paint-order="fill stroke">)</text>
<text transform="translate(509.48 524.00) scale(1.126 1)" font-size="29.78" font-family="Liberation Serif, DejaVu Serif, serif" font-style="italic" fill="#000">R</text>
<text transform="translate(539.82 523.81) scale(0.855 1)" font-size="31.43" font-family="Liberation Serif, DejaVu Serif, serif" fill="#000" stroke="#fff" stroke-width="0.3" paint-order="fill stroke">(</text>
<text transform="translate(551.83 524.00) scale(1.041 1)" font-size="30.07" font-family="Liberation Serif, DejaVu Serif, serif" font-style="italic" fill="#000">μ</text>
<text transform="translate(566.62 524.00) scale(1.101 1)" font-size="29.29" font-family="Liberation Serif, DejaVu Serif, serif" fill="#000">m</text>
<text transform="translate(592.62 523.81) scale(0.867 1)" font-size="31.43" font-family="Liberation Serif, DejaVu Serif, serif" fill="#000" stroke="#fff" stroke-width="0.3" paint-order="fill stroke">)</text>
<text transform="translate(41.20 423.57) rotate(-90) scale(1.057 1)" font-size="28.50" font-family="Liberation Serif, DejaVu Serif, serif">Energy</text>
<text transform="translate(41.20 323.97) rotate(-90) scale(1.012 1)" font-size="28.50" font-family="Liberation Serif, DejaVu Serif, serif">(GHz)</text>
<text transform="translate(349.79 255.71) scale(0.880 1)" font-size="31.43" font-family="Liberation Serif, DejaVu Serif, serif" fill="#000" stroke="#fff" stroke-width="0.3" paint-order="fill stroke">(</text>
<text transform="translate(359.36 255.90) scale(1.171 1)" font-size="30.05" font-family="Liberation Serif, DejaVu Serif, serif" fill="#000">a</text>
<text transform="translate(374.11 255.71) scale(0.880 1)" font-size="31.43" font-family="Liberation Serif, DejaVu Serif, serif" fill="#000" stroke="#fff" stroke-width="0.3" paint-order="fill stroke">)</text>
<text transform="translate(636.52 255.71) scale(0.855 1)" font-size="31.43" font-family="Liberation Serif, DejaVu Serif, serif" fill="#000" stroke="#fff" stroke-width="0.3" paint-order="fill stroke">(</text>
<text transform="translate(647.60 255.90) scale(0.992 1)" font-size="29.69" font-family="Liberation Serif, DejaVu Serif, serif" fill="#000">b</text>
<text transform="translate(662.77 255.71) scale(0.917 1)" font-size="31.43" font-family="Liberation Serif, DejaVu Serif, serif" fill="#000" stroke="#fff" stroke-width="0.3" paint-order="fill stroke">)</text>
<text transform="translate(243.06 291.79) scale(1.030 1)" font-size="23.05" font-family="Liberation Serif, DejaVu Serif, serif" fill="#000" stroke="#fff" stroke-width="0.2" paint-order="fill stroke">(</text>
<text transform="translate(250.97 291.20) scale(1.109 1)" font-size="20.60" font-family="Liberation Serif, DejaVu Serif, serif" fill="#000">5</text>
<text transform="translate(263.30 296.39) scale(1.002 1)" font-size="31.24" font-family="Liberation Serif, DejaVu Serif, serif" fill="#000">/</text>
<text transform="translate(272.61 291.20) scale(1.199 1)" font-size="20.60" font-family="Liberation Serif, DejaVu Serif, serif" fill="#000" stroke="#000" stroke-width="0.22">2</text>
<text transform="translate(285.93 291.20) scale(1.108 1)" font-size="20.60" font-family="Liberation Serif, DejaVu Serif, serif" fill="#000" stroke="#000" stroke-width="0.22">,</text>
<text transform="translate(296.61 293.58) scale(1.352 1)" font-size="22.09" font-family="Liberation Serif, DejaVu Serif, serif" fill="#000">−</text>
<text transform="translate(313.03 291.20) scale(1.081 1)" font-size="20.60" font-family="Liberation Serif, DejaVu Serif, serif" fill="#000">3</text>
<text transform="translate(325.10 296.39) scale(1.002 1)" font-size="31.24" font-family="Liberation Serif, DejaVu Serif, serif" fill="#000">/</text>
<text transform="translate(334.40 291.20) scale(1.211 1)" font-size="20.60" font-family="Liberation Serif, DejaVu Serif, serif" fill="#000" stroke="#000" stroke-width="0.22">2</text>
<text transform="translate(346.93 291.79) scale(1.030 1)" font-size="23.05" font-family="Liberation Serif, DejaVu Serif, serif" fill="#000" stroke="#fff" stroke-width="0.2" paint-order="fill stroke">)</text>
<text transform="translate(530.06 291.79) scale(1.030 1)" font-size="23.05" font-family="Liberation Serif, DejaVu Serif, serif" fill="#000" stroke="#fff" stroke-width="0.2" paint-order="fill stroke">(</text>
<text transform="translate(538.70 291.20) scale(0.993 1)" font-size="20.60" font-family="Liberation Serif, DejaVu Serif, serif" fill="#000">1</text>
<text transform="translate(550.30 296.39) scale(1.002 1)" font-size="31.24" font-family="Liberation Serif, DejaVu Serif, serif" fill="#000">/</text>
<text transform="translate(559.61 291.20) scale(1.199 1)" font-size="20.60" font-family="Liberation Serif, DejaVu Serif, serif" fill="#000" stroke="#000" stroke-width="0.22">2</text>
<text transform="translate(572.93 291.20) scale(1.108 1)" font-size="20.60" font-family="Liberation Serif, DejaVu Serif, serif" fill="#000" stroke="#000" stroke-width="0.22">,</text>
<text transform="translate(583.61 293.58) scale(1.352 1)" font-size="22.09" font-family="Liberation Serif, DejaVu Serif, serif" fill="#000">−</text>
<text transform="translate(600.50 291.20) scale(0.993 1)" font-size="20.60" font-family="Liberation Serif, DejaVu Serif, serif" fill="#000">1</text>
<text transform="translate(612.10 296.39) scale(1.002 1)" font-size="31.24" font-family="Liberation Serif, DejaVu Serif, serif" fill="#000">/</text>
<text transform="translate(621.40 291.20) scale(1.211 1)" font-size="20.60" font-family="Liberation Serif, DejaVu Serif, serif" fill="#000" stroke="#000" stroke-width="0.22">2</text>
<text transform="translate(633.93 291.79) scale(1.030 1)" font-size="23.05" font-family="Liberation Serif, DejaVu Serif, serif" fill="#000" stroke="#fff" stroke-width="0.2" paint-order="fill stroke">)</text>
</svg>
</body></html>
